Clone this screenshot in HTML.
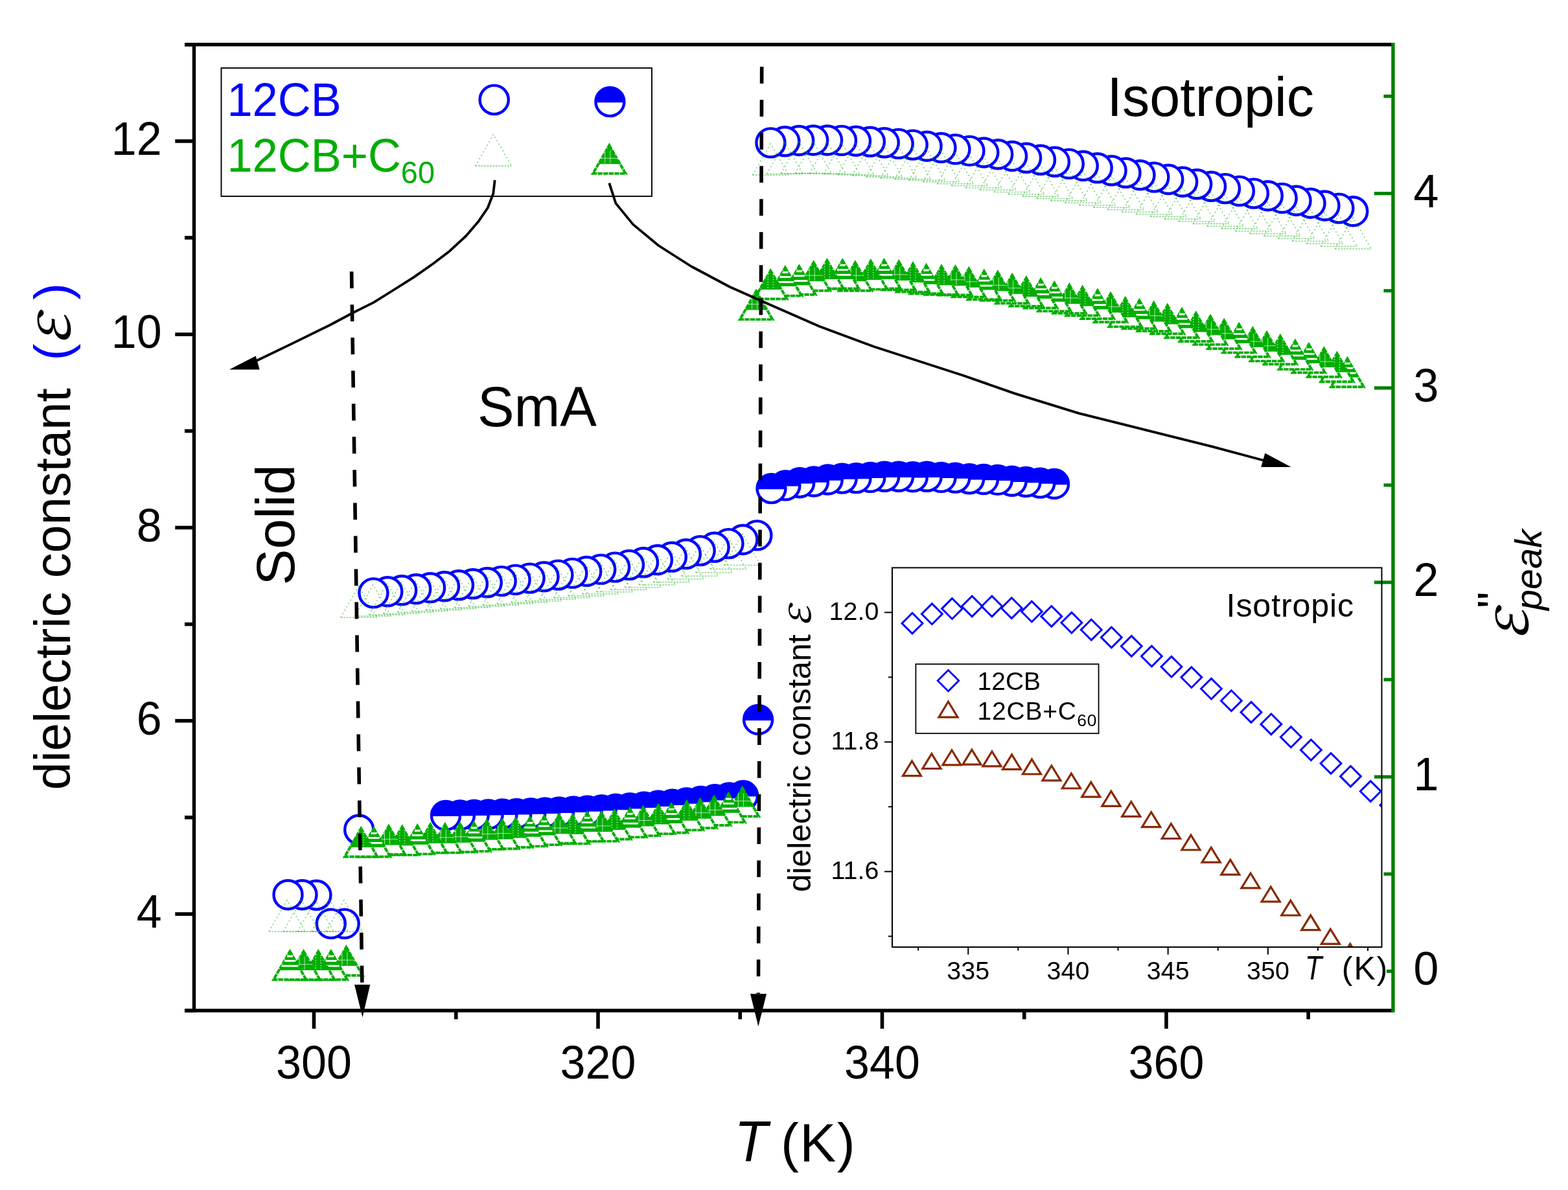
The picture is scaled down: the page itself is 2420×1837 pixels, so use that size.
<!DOCTYPE html>
<html><head><meta charset="utf-8"><title>dielectric constant</title><style>html,body{margin:0;padding:0;background:#fff;overflow:hidden}svg{display:block}</style></head><body>
<svg width="2420" height="1837" viewBox="0 0 2420 1837">
<rect width="2420" height="1837" fill="#fff"/>
<g id="seriesA">
<circle cx="2088.3" cy="326.2" r="22" fill="#fff" stroke="#0000ff" stroke-width="4.4"/>
<circle cx="2066.4" cy="321.6" r="22" fill="#fff" stroke="#0000ff" stroke-width="4.4"/>
<circle cx="2044.5" cy="317.5" r="22" fill="#fff" stroke="#0000ff" stroke-width="4.4"/>
<circle cx="2022.6" cy="313.7" r="22" fill="#fff" stroke="#0000ff" stroke-width="4.4"/>
<circle cx="2000.6" cy="309.7" r="22" fill="#fff" stroke="#0000ff" stroke-width="4.4"/>
<circle cx="1978.7" cy="305.9" r="22" fill="#fff" stroke="#0000ff" stroke-width="4.4"/>
<circle cx="1956.8" cy="302.2" r="22" fill="#fff" stroke="#0000ff" stroke-width="4.4"/>
<circle cx="1934.9" cy="298.6" r="22" fill="#fff" stroke="#0000ff" stroke-width="4.4"/>
<circle cx="1912.9" cy="294.9" r="22" fill="#fff" stroke="#0000ff" stroke-width="4.4"/>
<circle cx="1891" cy="291.1" r="22" fill="#fff" stroke="#0000ff" stroke-width="4.4"/>
<circle cx="1869.1" cy="287.8" r="22" fill="#fff" stroke="#0000ff" stroke-width="4.4"/>
<circle cx="1847.2" cy="284.3" r="22" fill="#fff" stroke="#0000ff" stroke-width="4.4"/>
<circle cx="1825.2" cy="280.7" r="22" fill="#fff" stroke="#0000ff" stroke-width="4.4"/>
<circle cx="1803.3" cy="277" r="22" fill="#fff" stroke="#0000ff" stroke-width="4.4"/>
<circle cx="1781.4" cy="273.6" r="22" fill="#fff" stroke="#0000ff" stroke-width="4.4"/>
<circle cx="1759.5" cy="270.2" r="22" fill="#fff" stroke="#0000ff" stroke-width="4.4"/>
<circle cx="1737.5" cy="266.8" r="22" fill="#fff" stroke="#0000ff" stroke-width="4.4"/>
<circle cx="1715.6" cy="263.3" r="22" fill="#fff" stroke="#0000ff" stroke-width="4.4"/>
<circle cx="1693.7" cy="259.3" r="22" fill="#fff" stroke="#0000ff" stroke-width="4.4"/>
<circle cx="1671.8" cy="256" r="22" fill="#fff" stroke="#0000ff" stroke-width="4.4"/>
<circle cx="1649.8" cy="252.9" r="22" fill="#fff" stroke="#0000ff" stroke-width="4.4"/>
<circle cx="1627.9" cy="249.8" r="22" fill="#fff" stroke="#0000ff" stroke-width="4.4"/>
<circle cx="1606" cy="246.8" r="22" fill="#fff" stroke="#0000ff" stroke-width="4.4"/>
<circle cx="1584.1" cy="243.8" r="22" fill="#fff" stroke="#0000ff" stroke-width="4.4"/>
<circle cx="1562.1" cy="241" r="22" fill="#fff" stroke="#0000ff" stroke-width="4.4"/>
<circle cx="1540.2" cy="238.2" r="22" fill="#fff" stroke="#0000ff" stroke-width="4.4"/>
<circle cx="1518.3" cy="235.5" r="22" fill="#fff" stroke="#0000ff" stroke-width="4.4"/>
<circle cx="1496.4" cy="232.9" r="22" fill="#fff" stroke="#0000ff" stroke-width="4.4"/>
<circle cx="1474.4" cy="230.4" r="22" fill="#fff" stroke="#0000ff" stroke-width="4.4"/>
<circle cx="1452.5" cy="228" r="22" fill="#fff" stroke="#0000ff" stroke-width="4.4"/>
<circle cx="1430.6" cy="225.7" r="22" fill="#fff" stroke="#0000ff" stroke-width="4.4"/>
<circle cx="1408.7" cy="223.6" r="22" fill="#fff" stroke="#0000ff" stroke-width="4.4"/>
<circle cx="1386.7" cy="221.9" r="22" fill="#fff" stroke="#0000ff" stroke-width="4.4"/>
<circle cx="1364.8" cy="220.3" r="22" fill="#fff" stroke="#0000ff" stroke-width="4.4"/>
<circle cx="1342.9" cy="218.8" r="22" fill="#fff" stroke="#0000ff" stroke-width="4.4"/>
<circle cx="1321" cy="217.7" r="22" fill="#fff" stroke="#0000ff" stroke-width="4.4"/>
<circle cx="1299" cy="216.9" r="22" fill="#fff" stroke="#0000ff" stroke-width="4.4"/>
<circle cx="1277.1" cy="216.5" r="22" fill="#fff" stroke="#0000ff" stroke-width="4.4"/>
<circle cx="1255.2" cy="216.5" r="22" fill="#fff" stroke="#0000ff" stroke-width="4.4"/>
<circle cx="1233.2" cy="217" r="22" fill="#fff" stroke="#0000ff" stroke-width="4.4"/>
<circle cx="1211.3" cy="218.3" r="22" fill="#fff" stroke="#0000ff" stroke-width="4.4"/>
<circle cx="1189.4" cy="220.4" r="22" fill="#fff" stroke="#0000ff" stroke-width="4.4"/>
<circle cx="1168.4" cy="826.4" r="22" fill="#fff" stroke="#0000ff" stroke-width="4.4"/>
<circle cx="1146.5" cy="833" r="22" fill="#fff" stroke="#0000ff" stroke-width="4.4"/>
<circle cx="1124.5" cy="839.1" r="22" fill="#fff" stroke="#0000ff" stroke-width="4.4"/>
<circle cx="1102.6" cy="844.8" r="22" fill="#fff" stroke="#0000ff" stroke-width="4.4"/>
<circle cx="1080.7" cy="850.1" r="22" fill="#fff" stroke="#0000ff" stroke-width="4.4"/>
<circle cx="1058.8" cy="855.2" r="22" fill="#fff" stroke="#0000ff" stroke-width="4.4"/>
<circle cx="1036.8" cy="859.8" r="22" fill="#fff" stroke="#0000ff" stroke-width="4.4"/>
<circle cx="1014.9" cy="864.2" r="22" fill="#fff" stroke="#0000ff" stroke-width="4.4"/>
<circle cx="993" cy="868.3" r="22" fill="#fff" stroke="#0000ff" stroke-width="4.4"/>
<circle cx="971" cy="872.1" r="22" fill="#fff" stroke="#0000ff" stroke-width="4.4"/>
<circle cx="949.1" cy="875.6" r="22" fill="#fff" stroke="#0000ff" stroke-width="4.4"/>
<circle cx="927.2" cy="878.9" r="22" fill="#fff" stroke="#0000ff" stroke-width="4.4"/>
<circle cx="905.3" cy="882" r="22" fill="#fff" stroke="#0000ff" stroke-width="4.4"/>
<circle cx="883.3" cy="884.9" r="22" fill="#fff" stroke="#0000ff" stroke-width="4.4"/>
<circle cx="861.4" cy="887.6" r="22" fill="#fff" stroke="#0000ff" stroke-width="4.4"/>
<circle cx="839.5" cy="890.2" r="22" fill="#fff" stroke="#0000ff" stroke-width="4.4"/>
<circle cx="817.6" cy="892.6" r="22" fill="#fff" stroke="#0000ff" stroke-width="4.4"/>
<circle cx="795.6" cy="894.9" r="22" fill="#fff" stroke="#0000ff" stroke-width="4.4"/>
<circle cx="773.7" cy="897.1" r="22" fill="#fff" stroke="#0000ff" stroke-width="4.4"/>
<circle cx="751.8" cy="899.2" r="22" fill="#fff" stroke="#0000ff" stroke-width="4.4"/>
<circle cx="729.9" cy="901.3" r="22" fill="#fff" stroke="#0000ff" stroke-width="4.4"/>
<circle cx="708" cy="903.3" r="22" fill="#fff" stroke="#0000ff" stroke-width="4.4"/>
<circle cx="686" cy="905.2" r="22" fill="#fff" stroke="#0000ff" stroke-width="4.4"/>
<circle cx="664.1" cy="907.2" r="22" fill="#fff" stroke="#0000ff" stroke-width="4.4"/>
<circle cx="642.2" cy="909.2" r="22" fill="#fff" stroke="#0000ff" stroke-width="4.4"/>
<circle cx="620.2" cy="911.2" r="22" fill="#fff" stroke="#0000ff" stroke-width="4.4"/>
<circle cx="598.3" cy="913.2" r="22" fill="#fff" stroke="#0000ff" stroke-width="4.4"/>
<circle cx="576.4" cy="915.4" r="22" fill="#fff" stroke="#0000ff" stroke-width="4.4"/>
<circle cx="554.2" cy="1280.8" r="22" fill="#fff" stroke="#0000ff" stroke-width="4.4"/>
<circle cx="531.7" cy="1425.9" r="22" fill="#fff" stroke="#0000ff" stroke-width="4.4"/>
<circle cx="510.8" cy="1425.9" r="22" fill="#fff" stroke="#0000ff" stroke-width="4.4"/>
<circle cx="488.4" cy="1381.8" r="22" fill="#fff" stroke="#0000ff" stroke-width="4.4"/>
<circle cx="466.5" cy="1381.2" r="22" fill="#fff" stroke="#0000ff" stroke-width="4.4"/>
<circle cx="444.5" cy="1381.2" r="22" fill="#fff" stroke="#0000ff" stroke-width="4.4"/>
</g>
<g id="seriesB">
<path d="M2060.3 384.2L2088.3 335.8L2116.3 384.2" fill="none" stroke="#33b833" stroke-width="1.8" stroke-dasharray="2 4" opacity="0.6"/>
<line x1="2060.3" y1="384.2" x2="2116.3" y2="384.2" stroke="#33b833" stroke-width="1.6" stroke-dasharray="3 1.5" opacity="0.55"/>
<path d="M2038.4 380.2L2066.4 331.8L2094.4 380.2" fill="none" stroke="#33b833" stroke-width="1.8" stroke-dasharray="2 4" opacity="0.6"/>
<line x1="2038.4" y1="380.2" x2="2094.4" y2="380.2" stroke="#33b833" stroke-width="1.6" stroke-dasharray="3 1.5" opacity="0.55"/>
<path d="M2016.5 376.2L2044.5 327.8L2072.5 376.2" fill="none" stroke="#33b833" stroke-width="1.8" stroke-dasharray="2 4" opacity="0.6"/>
<line x1="2016.5" y1="376.2" x2="2072.5" y2="376.2" stroke="#33b833" stroke-width="1.6" stroke-dasharray="3 1.5" opacity="0.55"/>
<path d="M1994.5 372.2L2022.5 323.8L2050.5 372.2" fill="none" stroke="#33b833" stroke-width="1.8" stroke-dasharray="2 4" opacity="0.6"/>
<line x1="1994.5" y1="372.2" x2="2050.5" y2="372.2" stroke="#33b833" stroke-width="1.6" stroke-dasharray="3 1.5" opacity="0.55"/>
<path d="M1972.6 368.3L2000.6 319.9L2028.6 368.3" fill="none" stroke="#33b833" stroke-width="1.8" stroke-dasharray="2 4" opacity="0.6"/>
<line x1="1972.6" y1="368.3" x2="2028.6" y2="368.3" stroke="#33b833" stroke-width="1.6" stroke-dasharray="3 1.5" opacity="0.55"/>
<path d="M1950.7 364.4L1978.7 316L2006.7 364.4" fill="none" stroke="#33b833" stroke-width="1.8" stroke-dasharray="2 4" opacity="0.6"/>
<line x1="1950.7" y1="364.4" x2="2006.7" y2="364.4" stroke="#33b833" stroke-width="1.6" stroke-dasharray="3 1.5" opacity="0.55"/>
<path d="M1928.8 360.6L1956.8 312.2L1984.8 360.6" fill="none" stroke="#33b833" stroke-width="1.8" stroke-dasharray="2 4" opacity="0.6"/>
<line x1="1928.8" y1="360.6" x2="1984.8" y2="360.6" stroke="#33b833" stroke-width="1.6" stroke-dasharray="3 1.5" opacity="0.55"/>
<path d="M1906.8 356.7L1934.8 308.3L1962.8 356.7" fill="none" stroke="#33b833" stroke-width="1.8" stroke-dasharray="2 4" opacity="0.6"/>
<line x1="1906.8" y1="356.7" x2="1962.8" y2="356.7" stroke="#33b833" stroke-width="1.6" stroke-dasharray="3 1.5" opacity="0.55"/>
<path d="M1884.9 352.9L1912.9 304.5L1940.9 352.9" fill="none" stroke="#33b833" stroke-width="1.8" stroke-dasharray="2 4" opacity="0.6"/>
<line x1="1884.9" y1="352.9" x2="1940.9" y2="352.9" stroke="#33b833" stroke-width="1.6" stroke-dasharray="3 1.5" opacity="0.55"/>
<path d="M1863 349.2L1891 300.8L1919 349.2" fill="none" stroke="#33b833" stroke-width="1.8" stroke-dasharray="2 4" opacity="0.6"/>
<line x1="1863" y1="349.2" x2="1919" y2="349.2" stroke="#33b833" stroke-width="1.6" stroke-dasharray="3 1.5" opacity="0.55"/>
<path d="M1841.1 345.4L1869.1 297L1897.1 345.4" fill="none" stroke="#33b833" stroke-width="1.8" stroke-dasharray="2 4" opacity="0.6"/>
<line x1="1841.1" y1="345.4" x2="1897.1" y2="345.4" stroke="#33b833" stroke-width="1.6" stroke-dasharray="3 1.5" opacity="0.55"/>
<path d="M1819.1 341.7L1847.1 293.3L1875.1 341.7" fill="none" stroke="#33b833" stroke-width="1.8" stroke-dasharray="2 4" opacity="0.6"/>
<line x1="1819.1" y1="341.7" x2="1875.1" y2="341.7" stroke="#33b833" stroke-width="1.6" stroke-dasharray="3 1.5" opacity="0.55"/>
<path d="M1797.2 338.1L1825.2 289.7L1853.2 338.1" fill="none" stroke="#33b833" stroke-width="1.8" stroke-dasharray="2 4" opacity="0.6"/>
<line x1="1797.2" y1="338.1" x2="1853.2" y2="338.1" stroke="#33b833" stroke-width="1.6" stroke-dasharray="3 1.5" opacity="0.55"/>
<path d="M1775.3 334.4L1803.3 286L1831.3 334.4" fill="none" stroke="#33b833" stroke-width="1.8" stroke-dasharray="2 4" opacity="0.6"/>
<line x1="1775.3" y1="334.4" x2="1831.3" y2="334.4" stroke="#33b833" stroke-width="1.6" stroke-dasharray="3 1.5" opacity="0.55"/>
<path d="M1753.4 330.8L1781.4 282.4L1809.4 330.8" fill="none" stroke="#33b833" stroke-width="1.8" stroke-dasharray="2 4" opacity="0.6"/>
<line x1="1753.4" y1="330.8" x2="1809.4" y2="330.8" stroke="#33b833" stroke-width="1.6" stroke-dasharray="3 1.5" opacity="0.55"/>
<path d="M1731.4 327.3L1759.4 278.9L1787.4 327.3" fill="none" stroke="#33b833" stroke-width="1.8" stroke-dasharray="2 4" opacity="0.6"/>
<line x1="1731.4" y1="327.3" x2="1787.4" y2="327.3" stroke="#33b833" stroke-width="1.6" stroke-dasharray="3 1.5" opacity="0.55"/>
<path d="M1709.5 323.7L1737.5 275.3L1765.5 323.7" fill="none" stroke="#33b833" stroke-width="1.8" stroke-dasharray="2 4" opacity="0.6"/>
<line x1="1709.5" y1="323.7" x2="1765.5" y2="323.7" stroke="#33b833" stroke-width="1.6" stroke-dasharray="3 1.5" opacity="0.55"/>
<path d="M1687.6 320.2L1715.6 271.8L1743.6 320.2" fill="none" stroke="#33b833" stroke-width="1.8" stroke-dasharray="2 4" opacity="0.6"/>
<line x1="1687.6" y1="320.2" x2="1743.6" y2="320.2" stroke="#33b833" stroke-width="1.6" stroke-dasharray="3 1.5" opacity="0.55"/>
<path d="M1665.7 316.7L1693.7 268.3L1721.7 316.7" fill="none" stroke="#33b833" stroke-width="1.8" stroke-dasharray="2 4" opacity="0.6"/>
<line x1="1665.7" y1="316.7" x2="1721.7" y2="316.7" stroke="#33b833" stroke-width="1.6" stroke-dasharray="3 1.5" opacity="0.55"/>
<path d="M1643.7 313.3L1671.7 264.9L1699.7 313.3" fill="none" stroke="#33b833" stroke-width="1.8" stroke-dasharray="2 4" opacity="0.6"/>
<line x1="1643.7" y1="313.3" x2="1699.7" y2="313.3" stroke="#33b833" stroke-width="1.6" stroke-dasharray="3 1.5" opacity="0.55"/>
<path d="M1621.8 309.9L1649.8 261.5L1677.8 309.9" fill="none" stroke="#33b833" stroke-width="1.8" stroke-dasharray="2 4" opacity="0.6"/>
<line x1="1621.8" y1="309.9" x2="1677.8" y2="309.9" stroke="#33b833" stroke-width="1.6" stroke-dasharray="3 1.5" opacity="0.55"/>
<path d="M1599.9 306.5L1627.9 258.1L1655.9 306.5" fill="none" stroke="#33b833" stroke-width="1.8" stroke-dasharray="2 4" opacity="0.6"/>
<line x1="1599.9" y1="306.5" x2="1655.9" y2="306.5" stroke="#33b833" stroke-width="1.6" stroke-dasharray="3 1.5" opacity="0.55"/>
<path d="M1578 303.1L1606 254.7L1634 303.1" fill="none" stroke="#33b833" stroke-width="1.8" stroke-dasharray="2 4" opacity="0.6"/>
<line x1="1578" y1="303.1" x2="1634" y2="303.1" stroke="#33b833" stroke-width="1.6" stroke-dasharray="3 1.5" opacity="0.55"/>
<path d="M1556 299.8L1584 251.4L1612 299.8" fill="none" stroke="#33b833" stroke-width="1.8" stroke-dasharray="2 4" opacity="0.6"/>
<line x1="1556" y1="299.8" x2="1612" y2="299.8" stroke="#33b833" stroke-width="1.6" stroke-dasharray="3 1.5" opacity="0.55"/>
<path d="M1534.1 296.5L1562.1 248.1L1590.1 296.5" fill="none" stroke="#33b833" stroke-width="1.8" stroke-dasharray="2 4" opacity="0.6"/>
<line x1="1534.1" y1="296.5" x2="1590.1" y2="296.5" stroke="#33b833" stroke-width="1.6" stroke-dasharray="3 1.5" opacity="0.55"/>
<path d="M1512.2 293.2L1540.2 244.8L1568.2 293.2" fill="none" stroke="#33b833" stroke-width="1.8" stroke-dasharray="2 4" opacity="0.6"/>
<line x1="1512.2" y1="293.2" x2="1568.2" y2="293.2" stroke="#33b833" stroke-width="1.6" stroke-dasharray="3 1.5" opacity="0.55"/>
<path d="M1490.3 290L1518.3 241.6L1546.3 290" fill="none" stroke="#33b833" stroke-width="1.8" stroke-dasharray="2 4" opacity="0.6"/>
<line x1="1490.3" y1="290" x2="1546.3" y2="290" stroke="#33b833" stroke-width="1.6" stroke-dasharray="3 1.5" opacity="0.55"/>
<path d="M1468.3 286.8L1496.3 238.4L1524.3 286.8" fill="none" stroke="#33b833" stroke-width="1.8" stroke-dasharray="2 4" opacity="0.6"/>
<line x1="1468.3" y1="286.8" x2="1524.3" y2="286.8" stroke="#33b833" stroke-width="1.6" stroke-dasharray="3 1.5" opacity="0.55"/>
<path d="M1446.4 283.7L1474.4 235.3L1502.4 283.7" fill="none" stroke="#33b833" stroke-width="1.8" stroke-dasharray="2 4" opacity="0.6"/>
<line x1="1446.4" y1="283.7" x2="1502.4" y2="283.7" stroke="#33b833" stroke-width="1.6" stroke-dasharray="3 1.5" opacity="0.55"/>
<path d="M1424.5 280.7L1452.5 232.3L1480.5 280.7" fill="none" stroke="#33b833" stroke-width="1.8" stroke-dasharray="2 4" opacity="0.6"/>
<line x1="1424.5" y1="280.7" x2="1480.5" y2="280.7" stroke="#33b833" stroke-width="1.6" stroke-dasharray="3 1.5" opacity="0.55"/>
<path d="M1402.6 278.5L1430.6 230.1L1458.6 278.5" fill="none" stroke="#33b833" stroke-width="1.8" stroke-dasharray="2 4" opacity="0.6"/>
<line x1="1402.6" y1="278.5" x2="1458.6" y2="278.5" stroke="#33b833" stroke-width="1.6" stroke-dasharray="3 1.5" opacity="0.55"/>
<path d="M1380.6 276.7L1408.6 228.3L1436.6 276.7" fill="none" stroke="#33b833" stroke-width="1.8" stroke-dasharray="2 4" opacity="0.6"/>
<line x1="1380.6" y1="276.7" x2="1436.6" y2="276.7" stroke="#33b833" stroke-width="1.6" stroke-dasharray="3 1.5" opacity="0.55"/>
<path d="M1358.7 275L1386.7 226.6L1414.7 275" fill="none" stroke="#33b833" stroke-width="1.8" stroke-dasharray="2 4" opacity="0.6"/>
<line x1="1358.7" y1="275" x2="1414.7" y2="275" stroke="#33b833" stroke-width="1.6" stroke-dasharray="3 1.5" opacity="0.55"/>
<path d="M1336.8 273.1L1364.8 224.7L1392.8 273.1" fill="none" stroke="#33b833" stroke-width="1.8" stroke-dasharray="2 4" opacity="0.6"/>
<line x1="1336.8" y1="273.1" x2="1392.8" y2="273.1" stroke="#33b833" stroke-width="1.6" stroke-dasharray="3 1.5" opacity="0.55"/>
<path d="M1314.9 271.2L1342.9 222.8L1370.9 271.2" fill="none" stroke="#33b833" stroke-width="1.8" stroke-dasharray="2 4" opacity="0.6"/>
<line x1="1314.9" y1="271.2" x2="1370.9" y2="271.2" stroke="#33b833" stroke-width="1.6" stroke-dasharray="3 1.5" opacity="0.55"/>
<path d="M1292.9 269.8L1320.9 221.4L1348.9 269.8" fill="none" stroke="#33b833" stroke-width="1.8" stroke-dasharray="2 4" opacity="0.6"/>
<line x1="1292.9" y1="269.8" x2="1348.9" y2="269.8" stroke="#33b833" stroke-width="1.6" stroke-dasharray="3 1.5" opacity="0.55"/>
<path d="M1271 268.7L1299 220.3L1327 268.7" fill="none" stroke="#33b833" stroke-width="1.8" stroke-dasharray="2 4" opacity="0.6"/>
<line x1="1271" y1="268.7" x2="1327" y2="268.7" stroke="#33b833" stroke-width="1.6" stroke-dasharray="3 1.5" opacity="0.55"/>
<path d="M1249.1 268L1277.1 219.6L1305.1 268" fill="none" stroke="#33b833" stroke-width="1.8" stroke-dasharray="2 4" opacity="0.6"/>
<line x1="1249.1" y1="268" x2="1305.1" y2="268" stroke="#33b833" stroke-width="1.6" stroke-dasharray="3 1.5" opacity="0.55"/>
<path d="M1227.2 267.6L1255.2 219.2L1283.2 267.6" fill="none" stroke="#33b833" stroke-width="1.8" stroke-dasharray="2 4" opacity="0.6"/>
<line x1="1227.2" y1="267.6" x2="1283.2" y2="267.6" stroke="#33b833" stroke-width="1.6" stroke-dasharray="3 1.5" opacity="0.55"/>
<path d="M1205.2 267.7L1233.2 219.3L1261.2 267.7" fill="none" stroke="#33b833" stroke-width="1.8" stroke-dasharray="2 4" opacity="0.6"/>
<line x1="1205.2" y1="267.7" x2="1261.2" y2="267.7" stroke="#33b833" stroke-width="1.6" stroke-dasharray="3 1.5" opacity="0.55"/>
<path d="M1183.3 268.5L1211.3 220.1L1239.3 268.5" fill="none" stroke="#33b833" stroke-width="1.8" stroke-dasharray="2 4" opacity="0.6"/>
<line x1="1183.3" y1="268.5" x2="1239.3" y2="268.5" stroke="#33b833" stroke-width="1.6" stroke-dasharray="3 1.5" opacity="0.55"/>
<path d="M1161.4 270.3L1189.4 221.9L1217.4 270.3" fill="none" stroke="#33b833" stroke-width="1.8" stroke-dasharray="2 4" opacity="0.6"/>
<line x1="1161.4" y1="270.3" x2="1217.4" y2="270.3" stroke="#33b833" stroke-width="1.6" stroke-dasharray="3 1.5" opacity="0.55"/>
<path d="M1117.8 872.5L1145.8 824.1L1173.8 872.5" fill="none" stroke="#33b833" stroke-width="1.8" stroke-dasharray="2 4" opacity="0.6"/>
<line x1="1117.8" y1="872.5" x2="1173.8" y2="872.5" stroke="#33b833" stroke-width="1.6" stroke-dasharray="3 1.5" opacity="0.55"/>
<path d="M1095.8 878.4L1123.8 830L1151.8 878.4" fill="none" stroke="#33b833" stroke-width="1.8" stroke-dasharray="2 4" opacity="0.6"/>
<line x1="1095.8" y1="878.4" x2="1151.8" y2="878.4" stroke="#33b833" stroke-width="1.6" stroke-dasharray="3 1.5" opacity="0.55"/>
<path d="M1073.9 884L1101.9 835.6L1129.9 884" fill="none" stroke="#33b833" stroke-width="1.8" stroke-dasharray="2 4" opacity="0.6"/>
<line x1="1073.9" y1="884" x2="1129.9" y2="884" stroke="#33b833" stroke-width="1.6" stroke-dasharray="3 1.5" opacity="0.55"/>
<path d="M1052 889.2L1080 840.8L1108 889.2" fill="none" stroke="#33b833" stroke-width="1.8" stroke-dasharray="2 4" opacity="0.6"/>
<line x1="1052" y1="889.2" x2="1108" y2="889.2" stroke="#33b833" stroke-width="1.6" stroke-dasharray="3 1.5" opacity="0.55"/>
<path d="M1030.1 894L1058.1 845.6L1086.1 894" fill="none" stroke="#33b833" stroke-width="1.8" stroke-dasharray="2 4" opacity="0.6"/>
<line x1="1030.1" y1="894" x2="1086.1" y2="894" stroke="#33b833" stroke-width="1.6" stroke-dasharray="3 1.5" opacity="0.55"/>
<path d="M1008.2 898.6L1036.2 850.2L1064.2 898.6" fill="none" stroke="#33b833" stroke-width="1.8" stroke-dasharray="2 4" opacity="0.6"/>
<line x1="1008.2" y1="898.6" x2="1064.2" y2="898.6" stroke="#33b833" stroke-width="1.6" stroke-dasharray="3 1.5" opacity="0.55"/>
<path d="M986.2 902.8L1014.2 854.4L1042.2 902.8" fill="none" stroke="#33b833" stroke-width="1.8" stroke-dasharray="2 4" opacity="0.6"/>
<line x1="986.2" y1="902.8" x2="1042.2" y2="902.8" stroke="#33b833" stroke-width="1.6" stroke-dasharray="3 1.5" opacity="0.55"/>
<path d="M964.3 906.7L992.3 858.3L1020.3 906.7" fill="none" stroke="#33b833" stroke-width="1.8" stroke-dasharray="2 4" opacity="0.6"/>
<line x1="964.3" y1="906.7" x2="1020.3" y2="906.7" stroke="#33b833" stroke-width="1.6" stroke-dasharray="3 1.5" opacity="0.55"/>
<path d="M942.4 910.4L970.4 862L998.4 910.4" fill="none" stroke="#33b833" stroke-width="1.8" stroke-dasharray="2 4" opacity="0.6"/>
<line x1="942.4" y1="910.4" x2="998.4" y2="910.4" stroke="#33b833" stroke-width="1.6" stroke-dasharray="3 1.5" opacity="0.55"/>
<path d="M920.5 913.8L948.5 865.4L976.5 913.8" fill="none" stroke="#33b833" stroke-width="1.8" stroke-dasharray="2 4" opacity="0.6"/>
<line x1="920.5" y1="913.8" x2="976.5" y2="913.8" stroke="#33b833" stroke-width="1.6" stroke-dasharray="3 1.5" opacity="0.55"/>
<path d="M898.5 916.9L926.5 868.5L954.5 916.9" fill="none" stroke="#33b833" stroke-width="1.8" stroke-dasharray="2 4" opacity="0.6"/>
<line x1="898.5" y1="916.9" x2="954.5" y2="916.9" stroke="#33b833" stroke-width="1.6" stroke-dasharray="3 1.5" opacity="0.55"/>
<path d="M876.6 919.9L904.6 871.5L932.6 919.9" fill="none" stroke="#33b833" stroke-width="1.8" stroke-dasharray="2 4" opacity="0.6"/>
<line x1="876.6" y1="919.9" x2="932.6" y2="919.9" stroke="#33b833" stroke-width="1.6" stroke-dasharray="3 1.5" opacity="0.55"/>
<path d="M854.7 922.6L882.7 874.2L910.7 922.6" fill="none" stroke="#33b833" stroke-width="1.8" stroke-dasharray="2 4" opacity="0.6"/>
<line x1="854.7" y1="922.6" x2="910.7" y2="922.6" stroke="#33b833" stroke-width="1.6" stroke-dasharray="3 1.5" opacity="0.55"/>
<path d="M832.8 925.2L860.8 876.8L888.8 925.2" fill="none" stroke="#33b833" stroke-width="1.8" stroke-dasharray="2 4" opacity="0.6"/>
<line x1="832.8" y1="925.2" x2="888.8" y2="925.2" stroke="#33b833" stroke-width="1.6" stroke-dasharray="3 1.5" opacity="0.55"/>
<path d="M810.8 927.6L838.8 879.2L866.8 927.6" fill="none" stroke="#33b833" stroke-width="1.8" stroke-dasharray="2 4" opacity="0.6"/>
<line x1="810.8" y1="927.6" x2="866.8" y2="927.6" stroke="#33b833" stroke-width="1.6" stroke-dasharray="3 1.5" opacity="0.55"/>
<path d="M788.9 929.9L816.9 881.5L844.9 929.9" fill="none" stroke="#33b833" stroke-width="1.8" stroke-dasharray="2 4" opacity="0.6"/>
<line x1="788.9" y1="929.9" x2="844.9" y2="929.9" stroke="#33b833" stroke-width="1.6" stroke-dasharray="3 1.5" opacity="0.55"/>
<path d="M767 932L795 883.6L823 932" fill="none" stroke="#33b833" stroke-width="1.8" stroke-dasharray="2 4" opacity="0.6"/>
<line x1="767" y1="932" x2="823" y2="932" stroke="#33b833" stroke-width="1.6" stroke-dasharray="3 1.5" opacity="0.55"/>
<path d="M745 934.1L773 885.7L801 934.1" fill="none" stroke="#33b833" stroke-width="1.8" stroke-dasharray="2 4" opacity="0.6"/>
<line x1="745" y1="934.1" x2="801" y2="934.1" stroke="#33b833" stroke-width="1.6" stroke-dasharray="3 1.5" opacity="0.55"/>
<path d="M723.1 936L751.1 887.6L779.1 936" fill="none" stroke="#33b833" stroke-width="1.8" stroke-dasharray="2 4" opacity="0.6"/>
<line x1="723.1" y1="936" x2="779.1" y2="936" stroke="#33b833" stroke-width="1.6" stroke-dasharray="3 1.5" opacity="0.55"/>
<path d="M701.2 937.9L729.2 889.5L757.2 937.9" fill="none" stroke="#33b833" stroke-width="1.8" stroke-dasharray="2 4" opacity="0.6"/>
<line x1="701.2" y1="937.9" x2="757.2" y2="937.9" stroke="#33b833" stroke-width="1.6" stroke-dasharray="3 1.5" opacity="0.55"/>
<path d="M679.3 939.8L707.3 891.4L735.3 939.8" fill="none" stroke="#33b833" stroke-width="1.8" stroke-dasharray="2 4" opacity="0.6"/>
<line x1="679.3" y1="939.8" x2="735.3" y2="939.8" stroke="#33b833" stroke-width="1.6" stroke-dasharray="3 1.5" opacity="0.55"/>
<path d="M657.3 941.6L685.3 893.2L713.3 941.6" fill="none" stroke="#33b833" stroke-width="1.8" stroke-dasharray="2 4" opacity="0.6"/>
<line x1="657.3" y1="941.6" x2="713.3" y2="941.6" stroke="#33b833" stroke-width="1.6" stroke-dasharray="3 1.5" opacity="0.55"/>
<path d="M635.4 943.5L663.4 895.1L691.4 943.5" fill="none" stroke="#33b833" stroke-width="1.8" stroke-dasharray="2 4" opacity="0.6"/>
<line x1="635.4" y1="943.5" x2="691.4" y2="943.5" stroke="#33b833" stroke-width="1.6" stroke-dasharray="3 1.5" opacity="0.55"/>
<path d="M613.5 945.3L641.5 896.9L669.5 945.3" fill="none" stroke="#33b833" stroke-width="1.8" stroke-dasharray="2 4" opacity="0.6"/>
<line x1="613.5" y1="945.3" x2="669.5" y2="945.3" stroke="#33b833" stroke-width="1.6" stroke-dasharray="3 1.5" opacity="0.55"/>
<path d="M591.6 947.2L619.6 898.8L647.6 947.2" fill="none" stroke="#33b833" stroke-width="1.8" stroke-dasharray="2 4" opacity="0.6"/>
<line x1="591.6" y1="947.2" x2="647.6" y2="947.2" stroke="#33b833" stroke-width="1.6" stroke-dasharray="3 1.5" opacity="0.55"/>
<path d="M569.6 949.1L597.6 900.7L625.6 949.1" fill="none" stroke="#33b833" stroke-width="1.8" stroke-dasharray="2 4" opacity="0.6"/>
<line x1="569.6" y1="949.1" x2="625.6" y2="949.1" stroke="#33b833" stroke-width="1.6" stroke-dasharray="3 1.5" opacity="0.55"/>
<path d="M547.7 951.1L575.7 902.7L603.7 951.1" fill="none" stroke="#33b833" stroke-width="1.8" stroke-dasharray="2 4" opacity="0.6"/>
<line x1="547.7" y1="951.1" x2="603.7" y2="951.1" stroke="#33b833" stroke-width="1.6" stroke-dasharray="3 1.5" opacity="0.55"/>
<path d="M525.8 953.2L553.8 904.8L581.8 953.2" fill="none" stroke="#33b833" stroke-width="1.8" stroke-dasharray="2 4" opacity="0.6"/>
<line x1="525.8" y1="953.2" x2="581.8" y2="953.2" stroke="#33b833" stroke-width="1.6" stroke-dasharray="3 1.5" opacity="0.55"/>
<path d="M503 1438L531 1389.6L559 1438" fill="none" stroke="#33b833" stroke-width="1.8" stroke-dasharray="2 4" opacity="0.6"/>
<line x1="503" y1="1438" x2="559" y2="1438" stroke="#33b833" stroke-width="1.6" stroke-dasharray="3 1.5" opacity="0.55"/>
<path d="M481 1438L509 1389.6L537 1438" fill="none" stroke="#33b833" stroke-width="1.8" stroke-dasharray="2 4" opacity="0.6"/>
<line x1="481" y1="1438" x2="537" y2="1438" stroke="#33b833" stroke-width="1.6" stroke-dasharray="3 1.5" opacity="0.55"/>
<path d="M459 1438L487 1389.6L515 1438" fill="none" stroke="#33b833" stroke-width="1.8" stroke-dasharray="2 4" opacity="0.6"/>
<line x1="459" y1="1438" x2="515" y2="1438" stroke="#33b833" stroke-width="1.6" stroke-dasharray="3 1.5" opacity="0.55"/>
<path d="M437 1438L465 1389.6L493 1438" fill="none" stroke="#33b833" stroke-width="1.8" stroke-dasharray="2 4" opacity="0.6"/>
<line x1="437" y1="1438" x2="493" y2="1438" stroke="#33b833" stroke-width="1.6" stroke-dasharray="3 1.5" opacity="0.55"/>
<path d="M415 1438L443 1389.6L471 1438" fill="none" stroke="#33b833" stroke-width="1.8" stroke-dasharray="2 4" opacity="0.6"/>
<line x1="415" y1="1438" x2="471" y2="1438" stroke="#33b833" stroke-width="1.6" stroke-dasharray="3 1.5" opacity="0.55"/>
</g>
<g id="seriesC">
<circle cx="1627.1" cy="747" r="22" fill="#fff" stroke="#0000ff" stroke-width="4.4"/>
<path d="M1605.1 748.2A22 22 0 1 1 1649.1 748.2Z" fill="#0000ff"/>
<circle cx="1605.3" cy="745.6" r="22" fill="#fff" stroke="#0000ff" stroke-width="4.4"/>
<path d="M1583.3 746.8A22 22 0 1 1 1627.2 746.8Z" fill="#0000ff"/>
<circle cx="1583.4" cy="744" r="22" fill="#fff" stroke="#0000ff" stroke-width="4.4"/>
<path d="M1561.5 745.2A22 22 0 1 1 1605.4 745.2Z" fill="#0000ff"/>
<circle cx="1561.6" cy="742.8" r="22" fill="#fff" stroke="#0000ff" stroke-width="4.4"/>
<path d="M1539.6 744A22 22 0 1 1 1583.6 744Z" fill="#0000ff"/>
<circle cx="1539.8" cy="740.9" r="22" fill="#fff" stroke="#0000ff" stroke-width="4.4"/>
<path d="M1517.8 742.1A22 22 0 1 1 1561.7 742.1Z" fill="#0000ff"/>
<circle cx="1517.9" cy="740" r="22" fill="#fff" stroke="#0000ff" stroke-width="4.4"/>
<path d="M1496 741.2A22 22 0 1 1 1539.9 741.2Z" fill="#0000ff"/>
<circle cx="1496.1" cy="739.3" r="22" fill="#fff" stroke="#0000ff" stroke-width="4.4"/>
<path d="M1474.2 740.5A22 22 0 1 1 1518.1 740.5Z" fill="#0000ff"/>
<circle cx="1474.3" cy="737.6" r="22" fill="#fff" stroke="#0000ff" stroke-width="4.4"/>
<path d="M1452.3 738.8A22 22 0 1 1 1496.3 738.8Z" fill="#0000ff"/>
<circle cx="1452.5" cy="736.9" r="22" fill="#fff" stroke="#0000ff" stroke-width="4.4"/>
<path d="M1430.5 738.1A22 22 0 1 1 1474.4 738.1Z" fill="#0000ff"/>
<circle cx="1430.6" cy="735.8" r="22" fill="#fff" stroke="#0000ff" stroke-width="4.4"/>
<path d="M1408.7 737A22 22 0 1 1 1452.6 737Z" fill="#0000ff"/>
<circle cx="1408.8" cy="736.2" r="22" fill="#fff" stroke="#0000ff" stroke-width="4.4"/>
<path d="M1386.8 737.4A22 22 0 1 1 1430.8 737.4Z" fill="#0000ff"/>
<circle cx="1387" cy="735.8" r="22" fill="#fff" stroke="#0000ff" stroke-width="4.4"/>
<path d="M1365 737A22 22 0 1 1 1408.9 737Z" fill="#0000ff"/>
<circle cx="1365.1" cy="735.8" r="22" fill="#fff" stroke="#0000ff" stroke-width="4.4"/>
<path d="M1343.2 737A22 22 0 1 1 1387.1 737Z" fill="#0000ff"/>
<circle cx="1343.3" cy="736.9" r="22" fill="#fff" stroke="#0000ff" stroke-width="4.4"/>
<path d="M1321.3 738.1A22 22 0 1 1 1365.3 738.1Z" fill="#0000ff"/>
<circle cx="1321.5" cy="738.1" r="22" fill="#fff" stroke="#0000ff" stroke-width="4.4"/>
<path d="M1299.5 739.3A22 22 0 1 1 1343.4 739.3Z" fill="#0000ff"/>
<circle cx="1299.7" cy="738.6" r="22" fill="#fff" stroke="#0000ff" stroke-width="4.4"/>
<path d="M1277.7 739.8A22 22 0 1 1 1321.6 739.8Z" fill="#0000ff"/>
<circle cx="1277.8" cy="740.5" r="22" fill="#fff" stroke="#0000ff" stroke-width="4.4"/>
<path d="M1255.9 741.7A22 22 0 1 1 1299.8 741.7Z" fill="#0000ff"/>
<circle cx="1256" cy="743.5" r="22" fill="#fff" stroke="#0000ff" stroke-width="4.4"/>
<path d="M1234 744.7A22 22 0 1 1 1278 744.7Z" fill="#0000ff"/>
<circle cx="1234.2" cy="745.2" r="22" fill="#fff" stroke="#0000ff" stroke-width="4.4"/>
<path d="M1212.2 746.4A22 22 0 1 1 1256.1 746.4Z" fill="#0000ff"/>
<circle cx="1212.3" cy="749.4" r="22" fill="#fff" stroke="#0000ff" stroke-width="4.4"/>
<path d="M1190.4 750.6A22 22 0 1 1 1234.3 750.6Z" fill="#0000ff"/>
<circle cx="1190.5" cy="754.1" r="22" fill="#fff" stroke="#0000ff" stroke-width="4.4"/>
<path d="M1168.5 755.3A22 22 0 1 1 1212.5 755.3Z" fill="#0000ff"/>
<circle cx="1170.1" cy="1111" r="22" fill="#fff" stroke="#0000ff" stroke-width="4.4"/>
<path d="M1148.1 1112.2A22 22 0 1 1 1192.1 1112.2Z" fill="#0000ff"/>
<circle cx="1147.1" cy="1228.3" r="22" fill="#fff" stroke="#0000ff" stroke-width="4.4"/>
<path d="M1125.1 1229.5A22 22 0 1 1 1169.1 1229.5Z" fill="#0000ff"/>
<circle cx="1125.2" cy="1231.4" r="22" fill="#fff" stroke="#0000ff" stroke-width="4.4"/>
<path d="M1103.3 1232.6A22 22 0 1 1 1147.2 1232.6Z" fill="#0000ff"/>
<circle cx="1103.4" cy="1234.3" r="22" fill="#fff" stroke="#0000ff" stroke-width="4.4"/>
<path d="M1081.4 1235.5A22 22 0 1 1 1125.3 1235.5Z" fill="#0000ff"/>
<circle cx="1081.5" cy="1237" r="22" fill="#fff" stroke="#0000ff" stroke-width="4.4"/>
<path d="M1059.5 1238.2A22 22 0 1 1 1103.5 1238.2Z" fill="#0000ff"/>
<circle cx="1059.7" cy="1239.5" r="22" fill="#fff" stroke="#0000ff" stroke-width="4.4"/>
<path d="M1037.7 1240.7A22 22 0 1 1 1081.6 1240.7Z" fill="#0000ff"/>
<circle cx="1037.8" cy="1241.8" r="22" fill="#fff" stroke="#0000ff" stroke-width="4.4"/>
<path d="M1015.8 1243A22 22 0 1 1 1059.8 1243Z" fill="#0000ff"/>
<circle cx="1015.9" cy="1243.8" r="22" fill="#fff" stroke="#0000ff" stroke-width="4.4"/>
<path d="M994 1245A22 22 0 1 1 1037.9 1245Z" fill="#0000ff"/>
<circle cx="994.1" cy="1245.7" r="22" fill="#fff" stroke="#0000ff" stroke-width="4.4"/>
<path d="M972.1 1246.9A22 22 0 1 1 1016 1246.9Z" fill="#0000ff"/>
<circle cx="972.2" cy="1247.4" r="22" fill="#fff" stroke="#0000ff" stroke-width="4.4"/>
<path d="M950.2 1248.6A22 22 0 1 1 994.2 1248.6Z" fill="#0000ff"/>
<circle cx="950.3" cy="1249" r="22" fill="#fff" stroke="#0000ff" stroke-width="4.4"/>
<path d="M928.4 1250.2A22 22 0 1 1 972.3 1250.2Z" fill="#0000ff"/>
<circle cx="928.5" cy="1250.4" r="22" fill="#fff" stroke="#0000ff" stroke-width="4.4"/>
<path d="M906.5 1251.6A22 22 0 1 1 950.4 1251.6Z" fill="#0000ff"/>
<circle cx="906.6" cy="1251.6" r="22" fill="#fff" stroke="#0000ff" stroke-width="4.4"/>
<path d="M884.7 1252.8A22 22 0 1 1 928.6 1252.8Z" fill="#0000ff"/>
<circle cx="884.8" cy="1252.8" r="22" fill="#fff" stroke="#0000ff" stroke-width="4.4"/>
<path d="M862.8 1254A22 22 0 1 1 906.7 1254Z" fill="#0000ff"/>
<circle cx="862.9" cy="1253.8" r="22" fill="#fff" stroke="#0000ff" stroke-width="4.4"/>
<path d="M840.9 1255A22 22 0 1 1 884.9 1255Z" fill="#0000ff"/>
<circle cx="841" cy="1254.7" r="22" fill="#fff" stroke="#0000ff" stroke-width="4.4"/>
<path d="M819.1 1255.9A22 22 0 1 1 863 1255.9Z" fill="#0000ff"/>
<circle cx="819.2" cy="1255.5" r="22" fill="#fff" stroke="#0000ff" stroke-width="4.4"/>
<path d="M797.2 1256.7A22 22 0 1 1 841.1 1256.7Z" fill="#0000ff"/>
<circle cx="797.3" cy="1256.2" r="22" fill="#fff" stroke="#0000ff" stroke-width="4.4"/>
<path d="M775.3 1257.4A22 22 0 1 1 819.3 1257.4Z" fill="#0000ff"/>
<circle cx="775.4" cy="1256.8" r="22" fill="#fff" stroke="#0000ff" stroke-width="4.4"/>
<path d="M753.5 1258A22 22 0 1 1 797.4 1258Z" fill="#0000ff"/>
<circle cx="753.6" cy="1257.4" r="22" fill="#fff" stroke="#0000ff" stroke-width="4.4"/>
<path d="M731.6 1258.6A22 22 0 1 1 775.6 1258.6Z" fill="#0000ff"/>
<circle cx="731.7" cy="1257.9" r="22" fill="#fff" stroke="#0000ff" stroke-width="4.4"/>
<path d="M709.8 1259.1A22 22 0 1 1 753.7 1259.1Z" fill="#0000ff"/>
<circle cx="709.9" cy="1258.4" r="22" fill="#fff" stroke="#0000ff" stroke-width="4.4"/>
<path d="M687.9 1259.6A22 22 0 1 1 731.8 1259.6Z" fill="#0000ff"/>
<circle cx="688" cy="1258.9" r="22" fill="#fff" stroke="#0000ff" stroke-width="4.4"/>
<path d="M666 1260.1A22 22 0 1 1 710 1260.1Z" fill="#0000ff"/>
</g>
<g id="seriesD">
<polygon points="2079.5,553.5 2104.7,597.2 2054.3,597.2" fill="#fff" stroke="#00ad00" stroke-width="3.9" stroke-linejoin="miter" stroke-dasharray="7.5 1.1"/>
<polygon points="2079.5,553.5 2096.3,582.6 2062.7,582.6" fill="#00ad00"/>
<rect x="2075.2" y="559.6" width="8.6" height="3" fill="#fff"/>
<rect x="2071" y="566.8" width="16.9" height="2.8" fill="#fff"/>
<rect x="2066.5" y="574.6" width="25.9" height="2.8" fill="#fff"/>
<polygon points="2063.5,545.5 2088.7,589.2 2038.3,589.2" fill="#fff" stroke="#00ad00" stroke-width="3.9" stroke-linejoin="miter" stroke-dasharray="7.5 1.1"/>
<polygon points="2063.5,545.5 2080.3,574.6 2046.7,574.6" fill="#00ad00"/>
<line x1="2059.5" y1="550.6" x2="2059.5" y2="573.6" stroke="#fff" stroke-width="1.3" stroke-dasharray="1.3 2.7" opacity="0.9"/>
<line x1="2067.5" y1="550.6" x2="2067.5" y2="573.6" stroke="#fff" stroke-width="1.3" stroke-dasharray="1.3 2.7" opacity="0.9"/>
<polygon points="2043.4,538 2068.6,581.7 2018.2,581.7" fill="#fff" stroke="#00ad00" stroke-width="3.9" stroke-linejoin="miter" stroke-dasharray="7.5 1.1"/>
<polygon points="2043.4,538 2060.2,567.1 2026.6,567.1" fill="#00ad00"/>
<line x1="2036.9" y1="546.1" x2="2036.9" y2="566.1" stroke="#fff" stroke-width="0.9" opacity="0.75"/>
<line x1="2044.9" y1="546.1" x2="2044.9" y2="566.1" stroke="#fff" stroke-width="0.9" opacity="0.75"/>
<line x1="2029.4" y1="558.1" x2="2057.4" y2="558.1" stroke="#fff" stroke-width="0.9" opacity="0.75"/>
<polygon points="2020,531.6 2045.2,575.3 1994.8,575.3" fill="#fff" stroke="#00ad00" stroke-width="3.9" stroke-linejoin="miter" stroke-dasharray="7.5 1.1"/>
<polygon points="2020,531.6 2036.8,560.7 2003.2,560.7" fill="#00ad00"/>
<rect x="2015.7" y="537.7" width="8.6" height="3" fill="#fff"/>
<rect x="2011.5" y="544.9" width="16.9" height="2.8" fill="#fff"/>
<rect x="2007" y="552.7" width="25.9" height="2.8" fill="#fff"/>
<polygon points="1999,526.4 2024.2,570.1 1973.8,570.1" fill="#fff" stroke="#00ad00" stroke-width="3.9" stroke-linejoin="miter" stroke-dasharray="7.5 1.1"/>
<polygon points="1999,526.4 2015.8,555.5 1982.2,555.5" fill="#00ad00"/>
<rect x="1994.7" y="532.5" width="8.6" height="3" fill="#fff"/>
<rect x="1990.5" y="539.7" width="16.9" height="2.8" fill="#fff"/>
<rect x="1986" y="547.5" width="25.9" height="2.8" fill="#fff"/>
<polygon points="1975.9,518.6 2001.1,562.3 1950.7,562.3" fill="#fff" stroke="#00ad00" stroke-width="3.9" stroke-linejoin="miter" stroke-dasharray="7.5 1.1"/>
<polygon points="1975.9,518.6 1992.7,547.7 1959.1,547.7" fill="#00ad00"/>
<line x1="1971.9" y1="523.7" x2="1971.9" y2="546.7" stroke="#fff" stroke-width="1.3" stroke-dasharray="1.3 2.7" opacity="0.9"/>
<line x1="1979.9" y1="523.7" x2="1979.9" y2="546.7" stroke="#fff" stroke-width="1.3" stroke-dasharray="1.3 2.7" opacity="0.9"/>
<polygon points="1955.1,513.7 1980.3,557.4 1929.9,557.4" fill="#fff" stroke="#00ad00" stroke-width="3.9" stroke-linejoin="miter" stroke-dasharray="7.5 1.1"/>
<polygon points="1955.1,513.7 1971.9,542.8 1938.3,542.8" fill="#00ad00"/>
<line x1="1948.6" y1="521.8" x2="1948.6" y2="541.8" stroke="#fff" stroke-width="0.9" opacity="0.75"/>
<line x1="1956.6" y1="521.8" x2="1956.6" y2="541.8" stroke="#fff" stroke-width="0.9" opacity="0.75"/>
<line x1="1941.1" y1="533.8" x2="1969.1" y2="533.8" stroke="#fff" stroke-width="0.9" opacity="0.75"/>
<polygon points="1933.4,507 1958.6,550.7 1908.2,550.7" fill="#fff" stroke="#00ad00" stroke-width="3.9" stroke-linejoin="miter" stroke-dasharray="7.5 1.1"/>
<polygon points="1933.4,507 1950.2,536.1 1916.6,536.1" fill="#00ad00"/>
<line x1="1926.9" y1="515.1" x2="1926.9" y2="535.1" stroke="#fff" stroke-width="0.9" opacity="0.75"/>
<line x1="1934.9" y1="515.1" x2="1934.9" y2="535.1" stroke="#fff" stroke-width="0.9" opacity="0.75"/>
<line x1="1919.4" y1="527.1" x2="1947.4" y2="527.1" stroke="#fff" stroke-width="0.9" opacity="0.75"/>
<polygon points="1912.3,500.7 1937.5,544.4 1887.1,544.4" fill="#fff" stroke="#00ad00" stroke-width="3.9" stroke-linejoin="miter" stroke-dasharray="7.5 1.1"/>
<polygon points="1912.3,500.7 1929.1,529.8 1895.5,529.8" fill="#00ad00"/>
<rect x="1908" y="506.8" width="8.6" height="3" fill="#fff"/>
<rect x="1903.8" y="514" width="16.9" height="2.8" fill="#fff"/>
<rect x="1899.3" y="521.8" width="25.9" height="2.8" fill="#fff"/>
<polygon points="1889.2,494.6 1914.4,538.3 1864,538.3" fill="#fff" stroke="#00ad00" stroke-width="3.9" stroke-linejoin="miter" stroke-dasharray="7.5 1.1"/>
<polygon points="1889.2,494.6 1906,523.7 1872.4,523.7" fill="#00ad00"/>
<line x1="1882.7" y1="502.7" x2="1882.7" y2="522.7" stroke="#fff" stroke-width="0.9" opacity="0.75"/>
<line x1="1890.7" y1="502.7" x2="1890.7" y2="522.7" stroke="#fff" stroke-width="0.9" opacity="0.75"/>
<line x1="1875.2" y1="514.7" x2="1903.2" y2="514.7" stroke="#fff" stroke-width="0.9" opacity="0.75"/>
<polygon points="1868,488.2 1893.2,531.9 1842.8,531.9" fill="#fff" stroke="#00ad00" stroke-width="3.9" stroke-linejoin="miter" stroke-dasharray="7.5 1.1"/>
<polygon points="1868,488.2 1884.8,517.3 1851.2,517.3" fill="#00ad00"/>
<line x1="1861.5" y1="496.3" x2="1861.5" y2="516.3" stroke="#fff" stroke-width="0.9" opacity="0.75"/>
<line x1="1869.5" y1="496.3" x2="1869.5" y2="516.3" stroke="#fff" stroke-width="0.9" opacity="0.75"/>
<line x1="1854" y1="508.3" x2="1882" y2="508.3" stroke="#fff" stroke-width="0.9" opacity="0.75"/>
<polygon points="1845.8,483.3 1871,527 1820.6,527" fill="#fff" stroke="#00ad00" stroke-width="3.9" stroke-linejoin="miter" stroke-dasharray="7.5 1.1"/>
<polygon points="1845.8,483.3 1862.6,512.4 1829,512.4" fill="#00ad00"/>
<line x1="1841.8" y1="488.4" x2="1841.8" y2="511.4" stroke="#fff" stroke-width="1.3" stroke-dasharray="1.3 2.7" opacity="0.9"/>
<line x1="1849.8" y1="488.4" x2="1849.8" y2="511.4" stroke="#fff" stroke-width="1.3" stroke-dasharray="1.3 2.7" opacity="0.9"/>
<polygon points="1824.1,477.5 1849.3,521.2 1798.9,521.2" fill="#fff" stroke="#00ad00" stroke-width="3.9" stroke-linejoin="miter" stroke-dasharray="7.5 1.1"/>
<polygon points="1824.1,477.5 1840.9,506.6 1807.3,506.6" fill="#00ad00"/>
<rect x="1819.8" y="483.6" width="8.6" height="3" fill="#fff"/>
<rect x="1815.6" y="490.8" width="16.9" height="2.8" fill="#fff"/>
<rect x="1811.1" y="498.6" width="25.9" height="2.8" fill="#fff"/>
<polygon points="1801.8,471.4 1827,515.1 1776.6,515.1" fill="#fff" stroke="#00ad00" stroke-width="3.9" stroke-linejoin="miter" stroke-dasharray="7.5 1.1"/>
<polygon points="1801.8,471.4 1818.6,500.5 1785,500.5" fill="#00ad00"/>
<line x1="1797.8" y1="476.5" x2="1797.8" y2="499.5" stroke="#fff" stroke-width="1.3" stroke-dasharray="1.3 2.7" opacity="0.9"/>
<line x1="1805.8" y1="476.5" x2="1805.8" y2="499.5" stroke="#fff" stroke-width="1.3" stroke-dasharray="1.3 2.7" opacity="0.9"/>
<polygon points="1780.7,467.4 1805.9,511.1 1755.5,511.1" fill="#fff" stroke="#00ad00" stroke-width="3.9" stroke-linejoin="miter" stroke-dasharray="7.5 1.1"/>
<polygon points="1780.7,467.4 1797.5,496.5 1763.9,496.5" fill="#00ad00"/>
<line x1="1774.2" y1="475.5" x2="1774.2" y2="495.5" stroke="#fff" stroke-width="0.9" opacity="0.75"/>
<line x1="1782.2" y1="475.5" x2="1782.2" y2="495.5" stroke="#fff" stroke-width="0.9" opacity="0.75"/>
<line x1="1766.7" y1="487.5" x2="1794.7" y2="487.5" stroke="#fff" stroke-width="0.9" opacity="0.75"/>
<polygon points="1758.4,463.6 1783.6,507.3 1733.2,507.3" fill="#fff" stroke="#00ad00" stroke-width="3.9" stroke-linejoin="miter" stroke-dasharray="7.5 1.1"/>
<polygon points="1758.4,463.6 1775.2,492.7 1741.6,492.7" fill="#00ad00"/>
<rect x="1754.1" y="469.7" width="8.6" height="3" fill="#fff"/>
<rect x="1749.9" y="476.9" width="16.9" height="2.8" fill="#fff"/>
<rect x="1745.4" y="484.7" width="25.9" height="2.8" fill="#fff"/>
<polygon points="1736.7,460.7 1761.9,504.4 1711.5,504.4" fill="#fff" stroke="#00ad00" stroke-width="3.9" stroke-linejoin="miter" stroke-dasharray="7.5 1.1"/>
<polygon points="1736.7,460.7 1753.5,489.8 1719.9,489.8" fill="#00ad00"/>
<line x1="1732.7" y1="465.8" x2="1732.7" y2="488.8" stroke="#fff" stroke-width="1.3" stroke-dasharray="1.3 2.7" opacity="0.9"/>
<line x1="1740.7" y1="465.8" x2="1740.7" y2="488.8" stroke="#fff" stroke-width="1.3" stroke-dasharray="1.3 2.7" opacity="0.9"/>
<polygon points="1714.1,453.5 1739.3,497.2 1688.9,497.2" fill="#fff" stroke="#00ad00" stroke-width="3.9" stroke-linejoin="miter" stroke-dasharray="7.5 1.1"/>
<polygon points="1714.1,453.5 1730.9,482.6 1697.3,482.6" fill="#00ad00"/>
<line x1="1707.6" y1="461.6" x2="1707.6" y2="481.6" stroke="#fff" stroke-width="0.9" opacity="0.75"/>
<line x1="1715.6" y1="461.6" x2="1715.6" y2="481.6" stroke="#fff" stroke-width="0.9" opacity="0.75"/>
<line x1="1700.1" y1="473.6" x2="1728.1" y2="473.6" stroke="#fff" stroke-width="0.9" opacity="0.75"/>
<polygon points="1693.9,448.3 1719.1,492 1668.7,492" fill="#fff" stroke="#00ad00" stroke-width="3.9" stroke-linejoin="miter" stroke-dasharray="7.5 1.1"/>
<polygon points="1693.9,448.3 1710.7,477.4 1677.1,477.4" fill="#00ad00"/>
<rect x="1689.6" y="454.4" width="8.6" height="3" fill="#fff"/>
<rect x="1685.4" y="461.6" width="16.9" height="2.8" fill="#fff"/>
<rect x="1680.9" y="469.4" width="25.9" height="2.8" fill="#fff"/>
<polygon points="1670.7,443.4 1695.9,487.1 1645.5,487.1" fill="#fff" stroke="#00ad00" stroke-width="3.9" stroke-linejoin="miter" stroke-dasharray="7.5 1.1"/>
<polygon points="1670.7,443.4 1687.5,472.5 1653.9,472.5" fill="#00ad00"/>
<line x1="1666.7" y1="448.5" x2="1666.7" y2="471.5" stroke="#fff" stroke-width="1.3" stroke-dasharray="1.3 2.7" opacity="0.9"/>
<line x1="1674.7" y1="448.5" x2="1674.7" y2="471.5" stroke="#fff" stroke-width="1.3" stroke-dasharray="1.3 2.7" opacity="0.9"/>
<polygon points="1650.5,439.9 1675.7,483.6 1625.3,483.6" fill="#fff" stroke="#00ad00" stroke-width="3.9" stroke-linejoin="miter" stroke-dasharray="7.5 1.1"/>
<polygon points="1650.5,439.9 1667.3,469 1633.7,469" fill="#00ad00"/>
<line x1="1644" y1="448" x2="1644" y2="468" stroke="#fff" stroke-width="0.9" opacity="0.75"/>
<line x1="1652" y1="448" x2="1652" y2="468" stroke="#fff" stroke-width="0.9" opacity="0.75"/>
<line x1="1636.5" y1="460" x2="1664.5" y2="460" stroke="#fff" stroke-width="0.9" opacity="0.75"/>
<polygon points="1627.3,436.7 1652.5,480.4 1602.1,480.4" fill="#fff" stroke="#00ad00" stroke-width="3.9" stroke-linejoin="miter" stroke-dasharray="7.5 1.1"/>
<polygon points="1627.3,436.7 1644.1,465.8 1610.5,465.8" fill="#00ad00"/>
<rect x="1623" y="442.8" width="8.6" height="3" fill="#fff"/>
<rect x="1618.8" y="450" width="16.9" height="2.8" fill="#fff"/>
<rect x="1614.3" y="457.8" width="25.9" height="2.8" fill="#fff"/>
<polygon points="1606.2,431.8 1631.4,475.5 1581,475.5" fill="#fff" stroke="#00ad00" stroke-width="3.9" stroke-linejoin="miter" stroke-dasharray="7.5 1.1"/>
<polygon points="1606.2,431.8 1623,460.9 1589.4,460.9" fill="#00ad00"/>
<rect x="1601.9" y="437.9" width="8.6" height="3" fill="#fff"/>
<rect x="1597.7" y="445.1" width="16.9" height="2.8" fill="#fff"/>
<rect x="1593.2" y="452.9" width="25.9" height="2.8" fill="#fff"/>
<polygon points="1583.9,428.9 1609.1,472.6 1558.7,472.6" fill="#fff" stroke="#00ad00" stroke-width="3.9" stroke-linejoin="miter" stroke-dasharray="7.5 1.1"/>
<polygon points="1583.9,428.9 1600.7,458 1567.1,458" fill="#00ad00"/>
<line x1="1579.9" y1="434" x2="1579.9" y2="457" stroke="#fff" stroke-width="1.3" stroke-dasharray="1.3 2.7" opacity="0.9"/>
<line x1="1587.9" y1="434" x2="1587.9" y2="457" stroke="#fff" stroke-width="1.3" stroke-dasharray="1.3 2.7" opacity="0.9"/>
<polygon points="1562.2,424.6 1587.4,468.3 1537,468.3" fill="#fff" stroke="#00ad00" stroke-width="3.9" stroke-linejoin="miter" stroke-dasharray="7.5 1.1"/>
<polygon points="1562.2,424.6 1579,453.7 1545.4,453.7" fill="#00ad00"/>
<line x1="1555.7" y1="432.7" x2="1555.7" y2="452.7" stroke="#fff" stroke-width="0.9" opacity="0.75"/>
<line x1="1563.7" y1="432.7" x2="1563.7" y2="452.7" stroke="#fff" stroke-width="0.9" opacity="0.75"/>
<line x1="1548.2" y1="444.7" x2="1576.2" y2="444.7" stroke="#fff" stroke-width="0.9" opacity="0.75"/>
<polygon points="1539.9,420.2 1565.1,463.9 1514.7,463.9" fill="#fff" stroke="#00ad00" stroke-width="3.9" stroke-linejoin="miter" stroke-dasharray="7.5 1.1"/>
<polygon points="1539.9,420.2 1556.7,449.3 1523.1,449.3" fill="#00ad00"/>
<line x1="1533.4" y1="428.3" x2="1533.4" y2="448.3" stroke="#fff" stroke-width="0.9" opacity="0.75"/>
<line x1="1541.4" y1="428.3" x2="1541.4" y2="448.3" stroke="#fff" stroke-width="0.9" opacity="0.75"/>
<line x1="1525.9" y1="440.3" x2="1553.9" y2="440.3" stroke="#fff" stroke-width="0.9" opacity="0.75"/>
<polygon points="1518.8,418.5 1544,462.2 1493.6,462.2" fill="#fff" stroke="#00ad00" stroke-width="3.9" stroke-linejoin="miter" stroke-dasharray="7.5 1.1"/>
<polygon points="1518.8,418.5 1535.6,447.6 1502,447.6" fill="#00ad00"/>
<rect x="1514.5" y="424.6" width="8.6" height="3" fill="#fff"/>
<rect x="1510.3" y="431.8" width="16.9" height="2.8" fill="#fff"/>
<rect x="1505.8" y="439.6" width="25.9" height="2.8" fill="#fff"/>
<polygon points="1495.3,414.7 1520.5,458.4 1470.1,458.4" fill="#fff" stroke="#00ad00" stroke-width="3.9" stroke-linejoin="miter" stroke-dasharray="7.5 1.1"/>
<polygon points="1495.3,414.7 1512.1,443.8 1478.5,443.8" fill="#00ad00"/>
<line x1="1488.8" y1="422.8" x2="1488.8" y2="442.8" stroke="#fff" stroke-width="0.9" opacity="0.75"/>
<line x1="1496.8" y1="422.8" x2="1496.8" y2="442.8" stroke="#fff" stroke-width="0.9" opacity="0.75"/>
<line x1="1481.3" y1="434.8" x2="1509.3" y2="434.8" stroke="#fff" stroke-width="0.9" opacity="0.75"/>
<polygon points="1474.5,411.8 1499.7,455.5 1449.3,455.5" fill="#fff" stroke="#00ad00" stroke-width="3.9" stroke-linejoin="miter" stroke-dasharray="7.5 1.1"/>
<polygon points="1474.5,411.8 1491.3,440.9 1457.7,440.9" fill="#00ad00"/>
<line x1="1468" y1="419.9" x2="1468" y2="439.9" stroke="#fff" stroke-width="0.9" opacity="0.75"/>
<line x1="1476" y1="419.9" x2="1476" y2="439.9" stroke="#fff" stroke-width="0.9" opacity="0.75"/>
<line x1="1460.5" y1="431.9" x2="1488.5" y2="431.9" stroke="#fff" stroke-width="0.9" opacity="0.75"/>
<polygon points="1453.1,411.1 1478.3,454.8 1427.9,454.8" fill="#fff" stroke="#00ad00" stroke-width="3.9" stroke-linejoin="miter" stroke-dasharray="7.5 1.1"/>
<polygon points="1453.1,411.1 1469.9,440.2 1436.3,440.2" fill="#00ad00"/>
<line x1="1449.1" y1="416.2" x2="1449.1" y2="439.2" stroke="#fff" stroke-width="1.3" stroke-dasharray="1.3 2.7" opacity="0.9"/>
<line x1="1457.1" y1="416.2" x2="1457.1" y2="439.2" stroke="#fff" stroke-width="1.3" stroke-dasharray="1.3 2.7" opacity="0.9"/>
<polygon points="1429.6,409.6 1454.8,453.3 1404.4,453.3" fill="#fff" stroke="#00ad00" stroke-width="3.9" stroke-linejoin="miter" stroke-dasharray="7.5 1.1"/>
<polygon points="1429.6,409.6 1446.4,438.7 1412.8,438.7" fill="#00ad00"/>
<rect x="1425.3" y="415.7" width="8.6" height="3" fill="#fff"/>
<rect x="1421.1" y="422.9" width="16.9" height="2.8" fill="#fff"/>
<rect x="1416.6" y="430.7" width="25.9" height="2.8" fill="#fff"/>
<polygon points="1409,406.9 1434.2,450.6 1383.8,450.6" fill="#fff" stroke="#00ad00" stroke-width="3.9" stroke-linejoin="miter" stroke-dasharray="7.5 1.1"/>
<polygon points="1409,406.9 1425.8,436 1392.2,436" fill="#00ad00"/>
<line x1="1405" y1="412" x2="1405" y2="435" stroke="#fff" stroke-width="1.3" stroke-dasharray="1.3 2.7" opacity="0.9"/>
<line x1="1413" y1="412" x2="1413" y2="435" stroke="#fff" stroke-width="1.3" stroke-dasharray="1.3 2.7" opacity="0.9"/>
<polygon points="1387.3,403.8 1412.5,447.5 1362.1,447.5" fill="#fff" stroke="#00ad00" stroke-width="3.9" stroke-linejoin="miter" stroke-dasharray="7.5 1.1"/>
<polygon points="1387.3,403.8 1404.1,432.9 1370.5,432.9" fill="#00ad00"/>
<line x1="1380.8" y1="411.9" x2="1380.8" y2="431.9" stroke="#fff" stroke-width="0.9" opacity="0.75"/>
<line x1="1388.8" y1="411.9" x2="1388.8" y2="431.9" stroke="#fff" stroke-width="0.9" opacity="0.75"/>
<line x1="1373.3" y1="423.9" x2="1401.3" y2="423.9" stroke="#fff" stroke-width="0.9" opacity="0.75"/>
<polygon points="1364.5,401.8 1389.7,445.5 1339.3,445.5" fill="#fff" stroke="#00ad00" stroke-width="3.9" stroke-linejoin="miter" stroke-dasharray="7.5 1.1"/>
<polygon points="1364.5,401.8 1381.3,430.9 1347.7,430.9" fill="#00ad00"/>
<rect x="1360.2" y="407.9" width="8.6" height="3" fill="#fff"/>
<rect x="1356" y="415.1" width="16.9" height="2.8" fill="#fff"/>
<rect x="1351.5" y="422.9" width="25.9" height="2.8" fill="#fff"/>
<polygon points="1343.9,402.9 1369.1,446.6 1318.7,446.6" fill="#fff" stroke="#00ad00" stroke-width="3.9" stroke-linejoin="miter" stroke-dasharray="7.5 1.1"/>
<polygon points="1343.9,402.9 1360.7,432 1327.1,432" fill="#00ad00"/>
<line x1="1339.9" y1="408" x2="1339.9" y2="431" stroke="#fff" stroke-width="1.3" stroke-dasharray="1.3 2.7" opacity="0.9"/>
<line x1="1347.9" y1="408" x2="1347.9" y2="431" stroke="#fff" stroke-width="1.3" stroke-dasharray="1.3 2.7" opacity="0.9"/>
<polygon points="1319.9,405.1 1345.1,448.8 1294.7,448.8" fill="#fff" stroke="#00ad00" stroke-width="3.9" stroke-linejoin="miter" stroke-dasharray="7.5 1.1"/>
<polygon points="1319.9,405.1 1336.7,434.2 1303.1,434.2" fill="#00ad00"/>
<line x1="1313.4" y1="413.2" x2="1313.4" y2="433.2" stroke="#fff" stroke-width="0.9" opacity="0.75"/>
<line x1="1321.4" y1="413.2" x2="1321.4" y2="433.2" stroke="#fff" stroke-width="0.9" opacity="0.75"/>
<line x1="1305.9" y1="425.2" x2="1333.9" y2="425.2" stroke="#fff" stroke-width="0.9" opacity="0.75"/>
<polygon points="1300.3,401.8 1325.5,445.5 1275.1,445.5" fill="#fff" stroke="#00ad00" stroke-width="3.9" stroke-linejoin="miter" stroke-dasharray="7.5 1.1"/>
<polygon points="1300.3,401.8 1317.1,430.9 1283.5,430.9" fill="#00ad00"/>
<rect x="1296" y="407.9" width="8.6" height="3" fill="#fff"/>
<rect x="1291.8" y="415.1" width="16.9" height="2.8" fill="#fff"/>
<rect x="1287.3" y="422.9" width="25.9" height="2.8" fill="#fff"/>
<polygon points="1276.5,401.8 1301.7,445.5 1251.3,445.5" fill="#fff" stroke="#00ad00" stroke-width="3.9" stroke-linejoin="miter" stroke-dasharray="7.5 1.1"/>
<polygon points="1276.5,401.8 1293.3,430.9 1259.7,430.9" fill="#00ad00"/>
<line x1="1272.5" y1="406.9" x2="1272.5" y2="429.9" stroke="#fff" stroke-width="1.3" stroke-dasharray="1.3 2.7" opacity="0.9"/>
<line x1="1280.5" y1="406.9" x2="1280.5" y2="429.9" stroke="#fff" stroke-width="1.3" stroke-dasharray="1.3 2.7" opacity="0.9"/>
<polygon points="1255.7,405.1 1280.9,448.8 1230.5,448.8" fill="#fff" stroke="#00ad00" stroke-width="3.9" stroke-linejoin="miter" stroke-dasharray="7.5 1.1"/>
<polygon points="1255.7,405.1 1272.5,434.2 1238.9,434.2" fill="#00ad00"/>
<line x1="1249.2" y1="413.2" x2="1249.2" y2="433.2" stroke="#fff" stroke-width="0.9" opacity="0.75"/>
<line x1="1257.2" y1="413.2" x2="1257.2" y2="433.2" stroke="#fff" stroke-width="0.9" opacity="0.75"/>
<line x1="1241.7" y1="425.2" x2="1269.7" y2="425.2" stroke="#fff" stroke-width="0.9" opacity="0.75"/>
<polygon points="1233.4,411.1 1258.6,454.8 1208.2,454.8" fill="#fff" stroke="#00ad00" stroke-width="3.9" stroke-linejoin="miter" stroke-dasharray="7.5 1.1"/>
<polygon points="1233.4,411.1 1250.2,440.2 1216.6,440.2" fill="#00ad00"/>
<rect x="1229.1" y="417.2" width="8.6" height="3" fill="#fff"/>
<rect x="1224.9" y="424.4" width="16.9" height="2.8" fill="#fff"/>
<rect x="1220.4" y="432.2" width="25.9" height="2.8" fill="#fff"/>
<polygon points="1211.9,412.9 1237.1,456.6 1186.7,456.6" fill="#fff" stroke="#00ad00" stroke-width="3.9" stroke-linejoin="miter" stroke-dasharray="7.5 1.1"/>
<polygon points="1211.9,412.9 1228.7,442 1195.1,442" fill="#00ad00"/>
<rect x="1207.6" y="419" width="8.6" height="3" fill="#fff"/>
<rect x="1203.4" y="426.2" width="16.9" height="2.8" fill="#fff"/>
<rect x="1198.9" y="434" width="25.9" height="2.8" fill="#fff"/>
<polygon points="1189.3,417.8 1214.5,461.5 1164.1,461.5" fill="#fff" stroke="#00ad00" stroke-width="3.9" stroke-linejoin="miter" stroke-dasharray="7.5 1.1"/>
<polygon points="1189.3,417.8 1206.1,446.9 1172.5,446.9" fill="#00ad00"/>
<line x1="1185.3" y1="422.9" x2="1185.3" y2="445.9" stroke="#fff" stroke-width="1.3" stroke-dasharray="1.3 2.7" opacity="0.9"/>
<line x1="1193.3" y1="422.9" x2="1193.3" y2="445.9" stroke="#fff" stroke-width="1.3" stroke-dasharray="1.3 2.7" opacity="0.9"/>
<polygon points="1167.1,449.4 1192.3,493.1 1141.9,493.1" fill="#fff" stroke="#00ad00" stroke-width="3.9" stroke-linejoin="miter" stroke-dasharray="7.5 1.1"/>
<polygon points="1167.1,449.4 1183.9,478.5 1150.3,478.5" fill="#00ad00"/>
<line x1="1160.6" y1="457.5" x2="1160.6" y2="477.5" stroke="#fff" stroke-width="0.9" opacity="0.75"/>
<line x1="1168.6" y1="457.5" x2="1168.6" y2="477.5" stroke="#fff" stroke-width="0.9" opacity="0.75"/>
<line x1="1153.1" y1="469.5" x2="1181.1" y2="469.5" stroke="#fff" stroke-width="0.9" opacity="0.75"/>
<polygon points="1145.9,1216.5 1171.1,1260.2 1120.7,1260.2" fill="#fff" stroke="#00ad00" stroke-width="3.9" stroke-linejoin="miter" stroke-dasharray="7.5 1.1"/>
<polygon points="1145.9,1216.5 1162.7,1245.6 1129.1,1245.6" fill="#00ad00"/>
<line x1="1139.4" y1="1224.6" x2="1139.4" y2="1244.6" stroke="#fff" stroke-width="0.9" opacity="0.75"/>
<line x1="1147.4" y1="1224.6" x2="1147.4" y2="1244.6" stroke="#fff" stroke-width="0.9" opacity="0.75"/>
<line x1="1131.9" y1="1236.6" x2="1159.9" y2="1236.6" stroke="#fff" stroke-width="0.9" opacity="0.75"/>
<polygon points="1124.4,1225.7 1149.6,1269.4 1099.2,1269.4" fill="#fff" stroke="#00ad00" stroke-width="3.9" stroke-linejoin="miter" stroke-dasharray="7.5 1.1"/>
<polygon points="1124.4,1225.7 1141.2,1254.8 1107.6,1254.8" fill="#00ad00"/>
<rect x="1120.1" y="1231.8" width="8.6" height="3" fill="#fff"/>
<rect x="1115.9" y="1239" width="16.9" height="2.8" fill="#fff"/>
<rect x="1111.4" y="1246.8" width="25.9" height="2.8" fill="#fff"/>
<polygon points="1102.1,1230.3 1127.3,1274 1076.9,1274" fill="#fff" stroke="#00ad00" stroke-width="3.9" stroke-linejoin="miter" stroke-dasharray="7.5 1.1"/>
<polygon points="1102.1,1230.3 1118.9,1259.4 1085.3,1259.4" fill="#00ad00"/>
<line x1="1095.6" y1="1238.4" x2="1095.6" y2="1258.4" stroke="#fff" stroke-width="0.9" opacity="0.75"/>
<line x1="1103.6" y1="1238.4" x2="1103.6" y2="1258.4" stroke="#fff" stroke-width="0.9" opacity="0.75"/>
<line x1="1088.1" y1="1250.4" x2="1116.1" y2="1250.4" stroke="#fff" stroke-width="0.9" opacity="0.75"/>
<polygon points="1080.6,1234.6 1105.8,1278.3 1055.4,1278.3" fill="#fff" stroke="#00ad00" stroke-width="3.9" stroke-linejoin="miter" stroke-dasharray="7.5 1.1"/>
<polygon points="1080.6,1234.6 1097.4,1263.7 1063.8,1263.7" fill="#00ad00"/>
<line x1="1074.1" y1="1242.7" x2="1074.1" y2="1262.7" stroke="#fff" stroke-width="0.9" opacity="0.75"/>
<line x1="1082.1" y1="1242.7" x2="1082.1" y2="1262.7" stroke="#fff" stroke-width="0.9" opacity="0.75"/>
<line x1="1066.6" y1="1254.7" x2="1094.6" y2="1254.7" stroke="#fff" stroke-width="0.9" opacity="0.75"/>
<polygon points="1059.8,1237.7 1085,1281.4 1034.6,1281.4" fill="#fff" stroke="#00ad00" stroke-width="3.9" stroke-linejoin="miter" stroke-dasharray="7.5 1.1"/>
<polygon points="1059.8,1237.7 1076.6,1266.8 1043,1266.8" fill="#00ad00"/>
<line x1="1055.8" y1="1242.8" x2="1055.8" y2="1265.8" stroke="#fff" stroke-width="1.3" stroke-dasharray="1.3 2.7" opacity="0.9"/>
<line x1="1063.8" y1="1242.8" x2="1063.8" y2="1265.8" stroke="#fff" stroke-width="1.3" stroke-dasharray="1.3 2.7" opacity="0.9"/>
<polygon points="1036,1241.8 1061.2,1285.5 1010.8,1285.5" fill="#fff" stroke="#00ad00" stroke-width="3.9" stroke-linejoin="miter" stroke-dasharray="7.5 1.1"/>
<polygon points="1036,1241.8 1052.8,1270.9 1019.2,1270.9" fill="#00ad00"/>
<rect x="1031.7" y="1247.9" width="8.6" height="3" fill="#fff"/>
<rect x="1027.5" y="1255.1" width="16.9" height="2.8" fill="#fff"/>
<rect x="1023" y="1262.9" width="25.9" height="2.8" fill="#fff"/>
<polygon points="1016,1243.4 1041.2,1287.1 990.8,1287.1" fill="#fff" stroke="#00ad00" stroke-width="3.9" stroke-linejoin="miter" stroke-dasharray="7.5 1.1"/>
<polygon points="1016,1243.4 1032.8,1272.5 999.2,1272.5" fill="#00ad00"/>
<line x1="1012" y1="1248.5" x2="1012" y2="1271.5" stroke="#fff" stroke-width="1.3" stroke-dasharray="1.3 2.7" opacity="0.9"/>
<line x1="1020" y1="1248.5" x2="1020" y2="1271.5" stroke="#fff" stroke-width="1.3" stroke-dasharray="1.3 2.7" opacity="0.9"/>
<polygon points="992.5,1246.4 1017.7,1290.1 967.3,1290.1" fill="#fff" stroke="#00ad00" stroke-width="3.9" stroke-linejoin="miter" stroke-dasharray="7.5 1.1"/>
<polygon points="992.5,1246.4 1009.3,1275.5 975.7,1275.5" fill="#00ad00"/>
<line x1="986" y1="1254.5" x2="986" y2="1274.5" stroke="#fff" stroke-width="0.9" opacity="0.75"/>
<line x1="994" y1="1254.5" x2="994" y2="1274.5" stroke="#fff" stroke-width="0.9" opacity="0.75"/>
<line x1="978.5" y1="1266.5" x2="1006.5" y2="1266.5" stroke="#fff" stroke-width="0.9" opacity="0.75"/>
<polygon points="972.2,1248.7 997.4,1292.4 947,1292.4" fill="#fff" stroke="#00ad00" stroke-width="3.9" stroke-linejoin="miter" stroke-dasharray="7.5 1.1"/>
<polygon points="972.2,1248.7 989,1277.8 955.4,1277.8" fill="#00ad00"/>
<rect x="967.9" y="1254.8" width="8.6" height="3" fill="#fff"/>
<rect x="963.7" y="1262" width="16.9" height="2.8" fill="#fff"/>
<rect x="959.2" y="1269.8" width="25.9" height="2.8" fill="#fff"/>
<polygon points="948.4,1251.8 973.6,1295.5 923.2,1295.5" fill="#fff" stroke="#00ad00" stroke-width="3.9" stroke-linejoin="miter" stroke-dasharray="7.5 1.1"/>
<polygon points="948.4,1251.8 965.2,1280.9 931.6,1280.9" fill="#00ad00"/>
<line x1="944.4" y1="1256.9" x2="944.4" y2="1279.9" stroke="#fff" stroke-width="1.3" stroke-dasharray="1.3 2.7" opacity="0.9"/>
<line x1="952.4" y1="1256.9" x2="952.4" y2="1279.9" stroke="#fff" stroke-width="1.3" stroke-dasharray="1.3 2.7" opacity="0.9"/>
<polygon points="928.4,1254.9 953.6,1298.6 903.2,1298.6" fill="#fff" stroke="#00ad00" stroke-width="3.9" stroke-linejoin="miter" stroke-dasharray="7.5 1.1"/>
<polygon points="928.4,1254.9 945.2,1284 911.6,1284" fill="#00ad00"/>
<line x1="921.9" y1="1263" x2="921.9" y2="1283" stroke="#fff" stroke-width="0.9" opacity="0.75"/>
<line x1="929.9" y1="1263" x2="929.9" y2="1283" stroke="#fff" stroke-width="0.9" opacity="0.75"/>
<line x1="914.4" y1="1275" x2="942.4" y2="1275" stroke="#fff" stroke-width="0.9" opacity="0.75"/>
<polygon points="906.1,1254.9 931.3,1298.6 880.9,1298.6" fill="#fff" stroke="#00ad00" stroke-width="3.9" stroke-linejoin="miter" stroke-dasharray="7.5 1.1"/>
<polygon points="906.1,1254.9 922.9,1284 889.3,1284" fill="#00ad00"/>
<rect x="901.8" y="1261" width="8.6" height="3" fill="#fff"/>
<rect x="897.6" y="1268.2" width="16.9" height="2.8" fill="#fff"/>
<rect x="893.1" y="1276" width="25.9" height="2.8" fill="#fff"/>
<polygon points="883.8,1258.7 909,1302.4 858.6,1302.4" fill="#fff" stroke="#00ad00" stroke-width="3.9" stroke-linejoin="miter" stroke-dasharray="7.5 1.1"/>
<polygon points="883.8,1258.7 900.6,1287.8 867,1287.8" fill="#00ad00"/>
<line x1="879.8" y1="1263.8" x2="879.8" y2="1286.8" stroke="#fff" stroke-width="1.3" stroke-dasharray="1.3 2.7" opacity="0.9"/>
<line x1="887.8" y1="1263.8" x2="887.8" y2="1286.8" stroke="#fff" stroke-width="1.3" stroke-dasharray="1.3 2.7" opacity="0.9"/>
<polygon points="862.8,1258.1 888,1301.8 837.6,1301.8" fill="#fff" stroke="#00ad00" stroke-width="3.9" stroke-linejoin="miter" stroke-dasharray="7.5 1.1"/>
<polygon points="862.8,1258.1 879.6,1287.2 846,1287.2" fill="#00ad00"/>
<line x1="856.3" y1="1266.2" x2="856.3" y2="1286.2" stroke="#fff" stroke-width="0.9" opacity="0.75"/>
<line x1="864.3" y1="1266.2" x2="864.3" y2="1286.2" stroke="#fff" stroke-width="0.9" opacity="0.75"/>
<line x1="848.8" y1="1278.2" x2="876.8" y2="1278.2" stroke="#fff" stroke-width="0.9" opacity="0.75"/>
<polygon points="839.7,1260.4 864.9,1304.1 814.5,1304.1" fill="#fff" stroke="#00ad00" stroke-width="3.9" stroke-linejoin="miter" stroke-dasharray="7.5 1.1"/>
<polygon points="839.7,1260.4 856.5,1289.5 822.9,1289.5" fill="#00ad00"/>
<rect x="835.4" y="1266.5" width="8.6" height="3" fill="#fff"/>
<rect x="831.2" y="1273.7" width="16.9" height="2.8" fill="#fff"/>
<rect x="826.7" y="1281.5" width="25.9" height="2.8" fill="#fff"/>
<polygon points="817.9,1262.7 843.1,1306.4 792.7,1306.4" fill="#fff" stroke="#00ad00" stroke-width="3.9" stroke-linejoin="miter" stroke-dasharray="7.5 1.1"/>
<polygon points="817.9,1262.7 834.7,1291.8 801.1,1291.8" fill="#00ad00"/>
<rect x="813.6" y="1268.8" width="8.6" height="3" fill="#fff"/>
<rect x="809.4" y="1276" width="16.9" height="2.8" fill="#fff"/>
<rect x="804.9" y="1283.8" width="25.9" height="2.8" fill="#fff"/>
<polygon points="795.9,1264.3 821.1,1308 770.7,1308" fill="#fff" stroke="#00ad00" stroke-width="3.9" stroke-linejoin="miter" stroke-dasharray="7.5 1.1"/>
<polygon points="795.9,1264.3 812.7,1293.4 779.1,1293.4" fill="#00ad00"/>
<line x1="791.9" y1="1269.4" x2="791.9" y2="1292.4" stroke="#fff" stroke-width="1.3" stroke-dasharray="1.3 2.7" opacity="0.9"/>
<line x1="799.9" y1="1269.4" x2="799.9" y2="1292.4" stroke="#fff" stroke-width="1.3" stroke-dasharray="1.3 2.7" opacity="0.9"/>
<polygon points="775.2,1266.5 800.4,1310.2 750,1310.2" fill="#fff" stroke="#00ad00" stroke-width="3.9" stroke-linejoin="miter" stroke-dasharray="7.5 1.1"/>
<polygon points="775.2,1266.5 792,1295.6 758.4,1295.6" fill="#00ad00"/>
<line x1="768.7" y1="1274.6" x2="768.7" y2="1294.6" stroke="#fff" stroke-width="0.9" opacity="0.75"/>
<line x1="776.7" y1="1274.6" x2="776.7" y2="1294.6" stroke="#fff" stroke-width="0.9" opacity="0.75"/>
<line x1="761.2" y1="1286.6" x2="789.2" y2="1286.6" stroke="#fff" stroke-width="0.9" opacity="0.75"/>
<polygon points="751.3,1267.3 776.5,1311 726.1,1311" fill="#fff" stroke="#00ad00" stroke-width="3.9" stroke-linejoin="miter" stroke-dasharray="7.5 1.1"/>
<polygon points="751.3,1267.3 768.1,1296.4 734.5,1296.4" fill="#00ad00"/>
<line x1="744.8" y1="1275.4" x2="744.8" y2="1295.4" stroke="#fff" stroke-width="0.9" opacity="0.75"/>
<line x1="752.8" y1="1275.4" x2="752.8" y2="1295.4" stroke="#fff" stroke-width="0.9" opacity="0.75"/>
<line x1="737.3" y1="1287.4" x2="765.3" y2="1287.4" stroke="#fff" stroke-width="0.9" opacity="0.75"/>
<polygon points="731.4,1270.4 756.6,1314.1 706.2,1314.1" fill="#fff" stroke="#00ad00" stroke-width="3.9" stroke-linejoin="miter" stroke-dasharray="7.5 1.1"/>
<polygon points="731.4,1270.4 748.2,1299.5 714.6,1299.5" fill="#00ad00"/>
<rect x="727.1" y="1276.5" width="8.6" height="3" fill="#fff"/>
<rect x="722.9" y="1283.7" width="16.9" height="2.8" fill="#fff"/>
<rect x="718.4" y="1291.5" width="25.9" height="2.8" fill="#fff"/>
<polygon points="709.8,1271.6 735,1315.3 684.6,1315.3" fill="#fff" stroke="#00ad00" stroke-width="3.9" stroke-linejoin="miter" stroke-dasharray="7.5 1.1"/>
<polygon points="709.8,1271.6 726.6,1300.7 693,1300.7" fill="#00ad00"/>
<line x1="703.3" y1="1279.7" x2="703.3" y2="1299.7" stroke="#fff" stroke-width="0.9" opacity="0.75"/>
<line x1="711.3" y1="1279.7" x2="711.3" y2="1299.7" stroke="#fff" stroke-width="0.9" opacity="0.75"/>
<line x1="695.8" y1="1291.7" x2="723.8" y2="1291.7" stroke="#fff" stroke-width="0.9" opacity="0.75"/>
<polygon points="686.8,1272.7 712,1316.4 661.6,1316.4" fill="#fff" stroke="#00ad00" stroke-width="3.9" stroke-linejoin="miter" stroke-dasharray="7.5 1.1"/>
<polygon points="686.8,1272.7 703.6,1301.8 670,1301.8" fill="#00ad00"/>
<line x1="680.3" y1="1280.8" x2="680.3" y2="1300.8" stroke="#fff" stroke-width="0.9" opacity="0.75"/>
<line x1="688.3" y1="1280.8" x2="688.3" y2="1300.8" stroke="#fff" stroke-width="0.9" opacity="0.75"/>
<line x1="672.8" y1="1292.8" x2="700.8" y2="1292.8" stroke="#fff" stroke-width="0.9" opacity="0.75"/>
<polygon points="664.2,1272.7 689.4,1316.4 639,1316.4" fill="#fff" stroke="#00ad00" stroke-width="3.9" stroke-linejoin="miter" stroke-dasharray="7.5 1.1"/>
<polygon points="664.2,1272.7 681,1301.8 647.4,1301.8" fill="#00ad00"/>
<line x1="660.2" y1="1277.8" x2="660.2" y2="1300.8" stroke="#fff" stroke-width="1.3" stroke-dasharray="1.3 2.7" opacity="0.9"/>
<line x1="668.2" y1="1277.8" x2="668.2" y2="1300.8" stroke="#fff" stroke-width="1.3" stroke-dasharray="1.3 2.7" opacity="0.9"/>
<polygon points="644.2,1274.7 669.4,1318.4 619,1318.4" fill="#fff" stroke="#00ad00" stroke-width="3.9" stroke-linejoin="miter" stroke-dasharray="7.5 1.1"/>
<polygon points="644.2,1274.7 661,1303.8 627.4,1303.8" fill="#00ad00"/>
<rect x="639.9" y="1280.8" width="8.6" height="3" fill="#fff"/>
<rect x="635.7" y="1288" width="16.9" height="2.8" fill="#fff"/>
<rect x="631.2" y="1295.8" width="25.9" height="2.8" fill="#fff"/>
<polygon points="620.7,1276.2 645.9,1319.9 595.5,1319.9" fill="#fff" stroke="#00ad00" stroke-width="3.9" stroke-linejoin="miter" stroke-dasharray="7.5 1.1"/>
<polygon points="620.7,1276.2 637.5,1305.3 603.9,1305.3" fill="#00ad00"/>
<line x1="616.7" y1="1281.3" x2="616.7" y2="1304.3" stroke="#fff" stroke-width="1.3" stroke-dasharray="1.3 2.7" opacity="0.9"/>
<line x1="624.7" y1="1281.3" x2="624.7" y2="1304.3" stroke="#fff" stroke-width="1.3" stroke-dasharray="1.3 2.7" opacity="0.9"/>
<polygon points="600,1275.3 625.2,1319 574.8,1319" fill="#fff" stroke="#00ad00" stroke-width="3.9" stroke-linejoin="miter" stroke-dasharray="7.5 1.1"/>
<polygon points="600,1275.3 616.8,1304.4 583.2,1304.4" fill="#00ad00"/>
<line x1="593.5" y1="1283.4" x2="593.5" y2="1303.4" stroke="#fff" stroke-width="0.9" opacity="0.75"/>
<line x1="601.5" y1="1283.4" x2="601.5" y2="1303.4" stroke="#fff" stroke-width="0.9" opacity="0.75"/>
<line x1="586" y1="1295.4" x2="614" y2="1295.4" stroke="#fff" stroke-width="0.9" opacity="0.75"/>
<polygon points="576.9,1278.8 602.1,1322.5 551.7,1322.5" fill="#fff" stroke="#00ad00" stroke-width="3.9" stroke-linejoin="miter" stroke-dasharray="7.5 1.1"/>
<polygon points="576.9,1278.8 593.7,1307.9 560.1,1307.9" fill="#00ad00"/>
<rect x="572.6" y="1284.9" width="8.6" height="3" fill="#fff"/>
<rect x="568.4" y="1292.1" width="16.9" height="2.8" fill="#fff"/>
<rect x="563.9" y="1299.9" width="25.9" height="2.8" fill="#fff"/>
<polygon points="557.2,1278.8 582.4,1322.5 532,1322.5" fill="#fff" stroke="#00ad00" stroke-width="3.9" stroke-linejoin="miter" stroke-dasharray="7.5 1.1"/>
<polygon points="557.2,1278.8 574,1307.9 540.4,1307.9" fill="#00ad00"/>
<line x1="553.2" y1="1283.9" x2="553.2" y2="1306.9" stroke="#fff" stroke-width="1.3" stroke-dasharray="1.3 2.7" opacity="0.9"/>
<line x1="561.2" y1="1283.9" x2="561.2" y2="1306.9" stroke="#fff" stroke-width="1.3" stroke-dasharray="1.3 2.7" opacity="0.9"/>
<polygon points="534.4,1462 559.6,1505.7 509.2,1505.7" fill="#fff" stroke="#00ad00" stroke-width="3.9" stroke-linejoin="miter" stroke-dasharray="7.5 1.1"/>
<polygon points="534.4,1462 551.2,1491.1 517.6,1491.1" fill="#00ad00"/>
<line x1="527.9" y1="1470.1" x2="527.9" y2="1490.1" stroke="#fff" stroke-width="0.9" opacity="0.75"/>
<line x1="535.9" y1="1470.1" x2="535.9" y2="1490.1" stroke="#fff" stroke-width="0.9" opacity="0.75"/>
<line x1="520.4" y1="1482.1" x2="548.4" y2="1482.1" stroke="#fff" stroke-width="0.9" opacity="0.75"/>
<polygon points="510.8,1468.6 536,1512.3 485.6,1512.3" fill="#fff" stroke="#00ad00" stroke-width="3.9" stroke-linejoin="miter" stroke-dasharray="7.5 1.1"/>
<polygon points="510.8,1468.6 527.6,1497.7 494,1497.7" fill="#00ad00"/>
<rect x="506.5" y="1474.7" width="8.6" height="3" fill="#fff"/>
<rect x="502.3" y="1481.9" width="16.9" height="2.8" fill="#fff"/>
<rect x="497.8" y="1489.7" width="25.9" height="2.8" fill="#fff"/>
<polygon points="491.2,1468.6 516.4,1512.3 466,1512.3" fill="#fff" stroke="#00ad00" stroke-width="3.9" stroke-linejoin="miter" stroke-dasharray="7.5 1.1"/>
<polygon points="491.2,1468.6 508,1497.7 474.4,1497.7" fill="#00ad00"/>
<line x1="487.2" y1="1473.7" x2="487.2" y2="1496.7" stroke="#fff" stroke-width="1.3" stroke-dasharray="1.3 2.7" opacity="0.9"/>
<line x1="495.2" y1="1473.7" x2="495.2" y2="1496.7" stroke="#fff" stroke-width="1.3" stroke-dasharray="1.3 2.7" opacity="0.9"/>
<polygon points="468.5,1468.6 493.7,1512.3 443.3,1512.3" fill="#fff" stroke="#00ad00" stroke-width="3.9" stroke-linejoin="miter" stroke-dasharray="7.5 1.1"/>
<polygon points="468.5,1468.6 485.3,1497.7 451.7,1497.7" fill="#00ad00"/>
<line x1="462" y1="1476.7" x2="462" y2="1496.7" stroke="#fff" stroke-width="0.9" opacity="0.75"/>
<line x1="470" y1="1476.7" x2="470" y2="1496.7" stroke="#fff" stroke-width="0.9" opacity="0.75"/>
<line x1="454.5" y1="1488.7" x2="482.5" y2="1488.7" stroke="#fff" stroke-width="0.9" opacity="0.75"/>
<polygon points="447.4,1468.6 472.6,1512.3 422.2,1512.3" fill="#fff" stroke="#00ad00" stroke-width="3.9" stroke-linejoin="miter" stroke-dasharray="7.5 1.1"/>
<polygon points="447.4,1468.6 464.2,1497.7 430.6,1497.7" fill="#00ad00"/>
<rect x="443.1" y="1474.7" width="8.6" height="3" fill="#fff"/>
<rect x="438.9" y="1481.9" width="16.9" height="2.8" fill="#fff"/>
<rect x="434.4" y="1489.7" width="25.9" height="2.8" fill="#fff"/>
</g>
<line x1="1175.7" y1="103" x2="1170.4" y2="1534" stroke="#000" stroke-width="5.6" stroke-dasharray="25.9 25.15"/>
<polygon points="1158,1534.3 1183,1534.3 1170.4,1584.5" fill="#000"/>
<line x1="542.6" y1="419.2" x2="558.9" y2="1519" stroke="#000" stroke-width="5.6" stroke-dasharray="25.9 25.13"/>
<polygon points="547,1519.9 571.3,1519.9 559.5,1570.4" fill="#000"/>
<polyline points="763.7,278 761.3,298.8 752.8,320.7 737.9,342.6 719,364.5 694.1,387.4 668.2,407.3 638.4,428.1 608.5,447 576.7,466.9 544.9,482.8 511.1,500.8 452.4,529.6 397.7,556 385,562" fill="none" stroke="#000" stroke-width="3.8" stroke-linejoin="round"/>
<polygon points="353.9,570.4 394.7,549.5 400.7,570.4" fill="#000"/>
<polyline points="940.3,282.7 950.4,313.9 977,346.4 1016.3,379 1066.5,411 1126.1,442.7 1175,464.4 1264.5,503.8 1348.5,535 1486.9,579.7 1566.7,607.6 1665.5,638.1 1743.7,657.7 1870.6,689.4 1949.5,710.5 1962,714" fill="none" stroke="#000" stroke-width="3.8" stroke-linejoin="round"/>
<polygon points="1992.7,721.1 1952.4,699.6 1946.3,721.1" fill="#000"/>
<line x1="285" y1="1560.2" x2="300" y2="1560.2" stroke="#000" stroke-width="5.6"/>
<line x1="270.3" y1="1411" x2="300" y2="1411" stroke="#000" stroke-width="5.6"/>
<text transform="translate(249.6 1432) scale(1.0 1.025)" font-family="'Liberation Sans', Arial, sans-serif" font-size="70" text-anchor="end">4</text>
<line x1="285" y1="1261.9" x2="300" y2="1261.9" stroke="#000" stroke-width="5.6"/>
<line x1="270.3" y1="1112.7" x2="300" y2="1112.7" stroke="#000" stroke-width="5.6"/>
<text transform="translate(249.6 1133.7) scale(1.0 1.025)" font-family="'Liberation Sans', Arial, sans-serif" font-size="70" text-anchor="end">6</text>
<line x1="285" y1="963.6" x2="300" y2="963.6" stroke="#000" stroke-width="5.6"/>
<line x1="270.3" y1="814.5" x2="300" y2="814.5" stroke="#000" stroke-width="5.6"/>
<text transform="translate(249.6 835.5) scale(1.0 1.025)" font-family="'Liberation Sans', Arial, sans-serif" font-size="70" text-anchor="end">8</text>
<line x1="285" y1="665.3" x2="300" y2="665.3" stroke="#000" stroke-width="5.6"/>
<line x1="270.3" y1="516.2" x2="300" y2="516.2" stroke="#000" stroke-width="5.6"/>
<text transform="translate(249.6 537.2) scale(1.0 1.025)" font-family="'Liberation Sans', Arial, sans-serif" font-size="70" text-anchor="end">10</text>
<line x1="285" y1="367" x2="300" y2="367" stroke="#000" stroke-width="5.6"/>
<line x1="270.3" y1="217.9" x2="300" y2="217.9" stroke="#000" stroke-width="5.6"/>
<text transform="translate(249.6 238.9) scale(1.0 1.025)" font-family="'Liberation Sans', Arial, sans-serif" font-size="70" text-anchor="end">12</text>
<line x1="285" y1="68.8" x2="300" y2="68.8" stroke="#000" stroke-width="5.6"/>
<line x1="484.5" y1="1560" x2="484.5" y2="1588" stroke="#000" stroke-width="5.6"/>
<text transform="translate(484.5 1664.5) scale(1.0 1.025)" font-family="'Liberation Sans', Arial, sans-serif" font-size="70" text-anchor="middle">300</text>
<line x1="703.8" y1="1560" x2="703.8" y2="1573.4" stroke="#000" stroke-width="5.6"/>
<line x1="923" y1="1560" x2="923" y2="1588" stroke="#000" stroke-width="5.6"/>
<text transform="translate(923 1664.5) scale(1.0 1.025)" font-family="'Liberation Sans', Arial, sans-serif" font-size="70" text-anchor="middle">320</text>
<line x1="1142.2" y1="1560" x2="1142.2" y2="1573.4" stroke="#000" stroke-width="5.6"/>
<line x1="1361.5" y1="1560" x2="1361.5" y2="1588" stroke="#000" stroke-width="5.6"/>
<text transform="translate(1361.5 1664.5) scale(1.0 1.025)" font-family="'Liberation Sans', Arial, sans-serif" font-size="70" text-anchor="middle">340</text>
<line x1="1580.8" y1="1560" x2="1580.8" y2="1573.4" stroke="#000" stroke-width="5.6"/>
<line x1="1800" y1="1560" x2="1800" y2="1588" stroke="#000" stroke-width="5.6"/>
<text transform="translate(1800 1664.5) scale(1.0 1.025)" font-family="'Liberation Sans', Arial, sans-serif" font-size="70" text-anchor="middle">360</text>
<line x1="2019.2" y1="1560" x2="2019.2" y2="1573.4" stroke="#000" stroke-width="5.6"/>
<line x1="285" y1="68.8" x2="2150" y2="68.8" stroke="#000" stroke-width="5.6"/>
<line x1="285" y1="1560" x2="2150" y2="1560" stroke="#000" stroke-width="5.6"/>
<line x1="299.5" y1="66" x2="299.5" y2="1562.8" stroke="#000" stroke-width="5.4"/>
<line x1="2121" y1="1499.3" x2="2150" y2="1499.3" stroke="#008000" stroke-width="5.2"/>
<text transform="translate(2181.5 1520.3) scale(1.0 1.025)" font-family="'Liberation Sans', Arial, sans-serif" font-size="70">0</text>
<line x1="2135.5" y1="1349.2" x2="2150" y2="1349.2" stroke="#008000" stroke-width="5.2"/>
<line x1="2121" y1="1199.2" x2="2150" y2="1199.2" stroke="#008000" stroke-width="5.2"/>
<text transform="translate(2181.5 1220.2) scale(1.0 1.025)" font-family="'Liberation Sans', Arial, sans-serif" font-size="70">1</text>
<line x1="2135.5" y1="1049.1" x2="2150" y2="1049.1" stroke="#008000" stroke-width="5.2"/>
<line x1="2121" y1="899" x2="2150" y2="899" stroke="#008000" stroke-width="5.2"/>
<text transform="translate(2181.5 920) scale(1.0 1.025)" font-family="'Liberation Sans', Arial, sans-serif" font-size="70">2</text>
<line x1="2135.5" y1="748.9" x2="2150" y2="748.9" stroke="#008000" stroke-width="5.2"/>
<line x1="2121" y1="598.9" x2="2150" y2="598.9" stroke="#008000" stroke-width="5.2"/>
<text transform="translate(2181.5 619.9) scale(1.0 1.025)" font-family="'Liberation Sans', Arial, sans-serif" font-size="70">3</text>
<line x1="2135.5" y1="448.8" x2="2150" y2="448.8" stroke="#008000" stroke-width="5.2"/>
<line x1="2121" y1="298.7" x2="2150" y2="298.7" stroke="#008000" stroke-width="5.2"/>
<text transform="translate(2181.5 319.7) scale(1.0 1.025)" font-family="'Liberation Sans', Arial, sans-serif" font-size="70">4</text>
<line x1="2135.5" y1="148.6" x2="2150" y2="148.6" stroke="#008000" stroke-width="5.2"/>
<line x1="2150" y1="66" x2="2150" y2="1562.8" stroke="#008000" stroke-width="5.4"/>
<g id="inset">
<line x1="1417.2" y1="1462" x2="1417.2" y2="1467.5" stroke="#000" stroke-width="2"/>
<line x1="1494.3" y1="1462" x2="1494.3" y2="1473.5" stroke="#000" stroke-width="2"/>
<text transform="translate(1494.3 1512.2) scale(1.0 1.0)" font-family="'Liberation Sans', Arial, sans-serif" font-size="39.5" text-anchor="middle">335</text>
<line x1="1571.4" y1="1462" x2="1571.4" y2="1467.5" stroke="#000" stroke-width="2"/>
<line x1="1648.5" y1="1462" x2="1648.5" y2="1473.5" stroke="#000" stroke-width="2"/>
<text transform="translate(1648.5 1512.2) scale(1.0 1.0)" font-family="'Liberation Sans', Arial, sans-serif" font-size="39.5" text-anchor="middle">340</text>
<line x1="1725.6" y1="1462" x2="1725.6" y2="1467.5" stroke="#000" stroke-width="2"/>
<line x1="1802.7" y1="1462" x2="1802.7" y2="1473.5" stroke="#000" stroke-width="2"/>
<text transform="translate(1802.7 1512.2) scale(1.0 1.0)" font-family="'Liberation Sans', Arial, sans-serif" font-size="39.5" text-anchor="middle">345</text>
<line x1="1879.8" y1="1462" x2="1879.8" y2="1467.5" stroke="#000" stroke-width="2"/>
<line x1="1956.9" y1="1462" x2="1956.9" y2="1473.5" stroke="#000" stroke-width="2"/>
<text transform="translate(1956.9 1512.2) scale(1.0 1.0)" font-family="'Liberation Sans', Arial, sans-serif" font-size="39.5" text-anchor="middle">350</text>
<line x1="2034" y1="1462" x2="2034" y2="1467.5" stroke="#000" stroke-width="2"/>
<line x1="2111.1" y1="1462" x2="2111.1" y2="1473.5" stroke="#000" stroke-width="2"/>
<line x1="1371" y1="1445.4" x2="1377" y2="1445.4" stroke="#000" stroke-width="2"/>
<line x1="1365" y1="1345.4" x2="1377" y2="1345.4" stroke="#000" stroke-width="2"/>
<text transform="translate(1356.4 1356.9) scale(1.0 1.0)" font-family="'Liberation Sans', Arial, sans-serif" font-size="39.5" text-anchor="end">11.6</text>
<line x1="1371" y1="1245.4" x2="1377" y2="1245.4" stroke="#000" stroke-width="2"/>
<line x1="1365" y1="1145.4" x2="1377" y2="1145.4" stroke="#000" stroke-width="2"/>
<text transform="translate(1356.4 1156.9) scale(1.0 1.0)" font-family="'Liberation Sans', Arial, sans-serif" font-size="39.5" text-anchor="end">11.8</text>
<line x1="1371" y1="1045.4" x2="1377" y2="1045.4" stroke="#000" stroke-width="2"/>
<line x1="1365" y1="945.4" x2="1377" y2="945.4" stroke="#000" stroke-width="2"/>
<text transform="translate(1356.4 956.9) scale(1.0 1.0)" font-family="'Liberation Sans', Arial, sans-serif" font-size="39.5" text-anchor="end">12.0</text>
<clipPath id="ic"><rect x="1377" y="876.4" width="755.5" height="585.6"/></clipPath>
<g clip-path="url(#ic)">
<polygon points="1408,946.3 1423.9,962.2 1408,978.1 1392.1,962.2" fill="none" stroke="#0000ff" stroke-width="3" stroke-linejoin="miter"/>
<polygon points="1438.4,931.9 1454.3,947.8 1438.4,963.7 1422.5,947.8" fill="none" stroke="#0000ff" stroke-width="3" stroke-linejoin="miter"/>
<polygon points="1469.5,923.7 1485.4,939.6 1469.5,955.5 1453.6,939.6" fill="none" stroke="#0000ff" stroke-width="3" stroke-linejoin="miter"/>
<polygon points="1500.2,920.1 1516.1,936 1500.2,951.9 1484.3,936" fill="none" stroke="#0000ff" stroke-width="3" stroke-linejoin="miter"/>
<polygon points="1530.9,920.1 1546.8,936 1530.9,951.9 1515,936" fill="none" stroke="#0000ff" stroke-width="3" stroke-linejoin="miter"/>
<polygon points="1561.3,922.8 1577.2,938.7 1561.3,954.6 1545.4,938.7" fill="none" stroke="#0000ff" stroke-width="3" stroke-linejoin="miter"/>
<polygon points="1592.4,928.2 1608.3,944.1 1592.4,960 1576.5,944.1" fill="none" stroke="#0000ff" stroke-width="3" stroke-linejoin="miter"/>
<polygon points="1622.8,935.5 1638.7,951.4 1622.8,967.3 1606.9,951.4" fill="none" stroke="#0000ff" stroke-width="3" stroke-linejoin="miter"/>
<polygon points="1653.9,945.4 1669.8,961.3 1653.9,977.2 1638,961.3" fill="none" stroke="#0000ff" stroke-width="3" stroke-linejoin="miter"/>
<polygon points="1684.3,956.3 1700.2,972.2 1684.3,988.1 1668.4,972.2" fill="none" stroke="#0000ff" stroke-width="3" stroke-linejoin="miter"/>
<polygon points="1715.4,968 1731.3,983.9 1715.4,999.8 1699.5,983.9" fill="none" stroke="#0000ff" stroke-width="3" stroke-linejoin="miter"/>
<polygon points="1746.3,981.6 1762.2,997.5 1746.3,1013.4 1730.4,997.5" fill="none" stroke="#0000ff" stroke-width="3" stroke-linejoin="miter"/>
<polygon points="1777.4,997.1 1793.3,1013 1777.4,1028.9 1761.5,1013" fill="none" stroke="#0000ff" stroke-width="3" stroke-linejoin="miter"/>
<polygon points="1808,1013.4 1823.9,1029.3 1808,1045.2 1792.1,1029.3" fill="none" stroke="#0000ff" stroke-width="3" stroke-linejoin="miter"/>
<polygon points="1838.9,1029.7 1854.8,1045.6 1838.9,1061.5 1823,1045.6" fill="none" stroke="#0000ff" stroke-width="3" stroke-linejoin="miter"/>
<polygon points="1869.5,1047.4 1885.4,1063.3 1869.5,1079.2 1853.6,1063.3" fill="none" stroke="#0000ff" stroke-width="3" stroke-linejoin="miter"/>
<polygon points="1900.4,1065.8 1916.3,1081.7 1900.4,1097.6 1884.5,1081.7" fill="none" stroke="#0000ff" stroke-width="3" stroke-linejoin="miter"/>
<polygon points="1931,1083.6 1946.9,1099.5 1931,1115.4 1915.1,1099.5" fill="none" stroke="#0000ff" stroke-width="3" stroke-linejoin="miter"/>
<polygon points="1961.9,1102 1977.8,1117.9 1961.9,1133.8 1946,1117.9" fill="none" stroke="#0000ff" stroke-width="3" stroke-linejoin="miter"/>
<polygon points="1992.4,1121.9 2008.3,1137.8 1992.4,1153.7 1976.5,1137.8" fill="none" stroke="#0000ff" stroke-width="3" stroke-linejoin="miter"/>
<polygon points="2023.4,1141.8 2039.3,1157.7 2023.4,1173.6 2007.5,1157.7" fill="none" stroke="#0000ff" stroke-width="3" stroke-linejoin="miter"/>
<polygon points="2054.1,1162.6 2070,1178.5 2054.1,1194.4 2038.2,1178.5" fill="none" stroke="#0000ff" stroke-width="3" stroke-linejoin="miter"/>
<polygon points="2084.5,1182.5 2100.4,1198.4 2084.5,1214.3 2068.6,1198.4" fill="none" stroke="#0000ff" stroke-width="3" stroke-linejoin="miter"/>
<polygon points="2115.3,1205.6 2131.2,1221.5 2115.3,1237.4 2099.4,1221.5" fill="none" stroke="#0000ff" stroke-width="3" stroke-linejoin="miter"/>
<polygon points="2146,1227.1 2161.9,1243 2146,1258.9 2130.1,1243" fill="none" stroke="#0000ff" stroke-width="3" stroke-linejoin="miter"/>
<polygon points="1407.5,1174.8 1421.5,1197.7 1393.5,1197.7" fill="none" stroke="#872a00" stroke-width="3.2" stroke-linejoin="miter"/>
<polygon points="1437.9,1163.6 1452,1186.5 1423.9,1186.5" fill="none" stroke="#872a00" stroke-width="3.2" stroke-linejoin="miter"/>
<polygon points="1469,1158 1483,1180.9 1455,1180.9" fill="none" stroke="#872a00" stroke-width="3.2" stroke-linejoin="miter"/>
<polygon points="1499.9,1157.3 1514,1180.2 1485.9,1180.2" fill="none" stroke="#872a00" stroke-width="3.2" stroke-linejoin="miter"/>
<polygon points="1531,1160 1545,1182.9 1517,1182.9" fill="none" stroke="#872a00" stroke-width="3.2" stroke-linejoin="miter"/>
<polygon points="1561.6,1164.8 1575.6,1187.7 1547.5,1187.7" fill="none" stroke="#872a00" stroke-width="3.2" stroke-linejoin="miter"/>
<polygon points="1592.5,1172.1 1606.5,1195 1578.5,1195" fill="none" stroke="#872a00" stroke-width="3.2" stroke-linejoin="miter"/>
<polygon points="1622.9,1182 1637,1204.9 1608.9,1204.9" fill="none" stroke="#872a00" stroke-width="3.2" stroke-linejoin="miter"/>
<polygon points="1653.4,1194.1 1667.5,1217 1639.4,1217" fill="none" stroke="#872a00" stroke-width="3.2" stroke-linejoin="miter"/>
<polygon points="1683.8,1207.3 1697.8,1230.2 1669.8,1230.2" fill="none" stroke="#872a00" stroke-width="3.2" stroke-linejoin="miter"/>
<polygon points="1714.9,1221.4 1729,1244.3 1700.9,1244.3" fill="none" stroke="#872a00" stroke-width="3.2" stroke-linejoin="miter"/>
<polygon points="1745.8,1237.5 1759.8,1260.4 1731.8,1260.4" fill="none" stroke="#872a00" stroke-width="3.2" stroke-linejoin="miter"/>
<polygon points="1776.7,1253.7 1790.8,1276.6 1762.7,1276.6" fill="none" stroke="#872a00" stroke-width="3.2" stroke-linejoin="miter"/>
<polygon points="1807.4,1271.6 1821.5,1294.5 1793.4,1294.5" fill="none" stroke="#872a00" stroke-width="3.2" stroke-linejoin="miter"/>
<polygon points="1838,1289.1 1852,1312 1824,1312" fill="none" stroke="#872a00" stroke-width="3.2" stroke-linejoin="miter"/>
<polygon points="1869.3,1308.3 1883.3,1331.2 1855.2,1331.2" fill="none" stroke="#872a00" stroke-width="3.2" stroke-linejoin="miter"/>
<polygon points="1898.8,1327.2 1912.8,1350.1 1884.8,1350.1" fill="none" stroke="#872a00" stroke-width="3.2" stroke-linejoin="miter"/>
<polygon points="1930.1,1348 1944.1,1370.9 1916,1370.9" fill="none" stroke="#872a00" stroke-width="3.2" stroke-linejoin="miter"/>
<polygon points="1961.3,1369 1975.3,1391.9 1947.2,1391.9" fill="none" stroke="#872a00" stroke-width="3.2" stroke-linejoin="miter"/>
<polygon points="1991.9,1390.1 2006,1413 1977.9,1413" fill="none" stroke="#872a00" stroke-width="3.2" stroke-linejoin="miter"/>
<polygon points="2022.8,1412.8 2036.8,1435.7 2008.8,1435.7" fill="none" stroke="#872a00" stroke-width="3.2" stroke-linejoin="miter"/>
<polygon points="2053.4,1434.3 2067.5,1457.2 2039.4,1457.2" fill="none" stroke="#872a00" stroke-width="3.2" stroke-linejoin="miter"/>
<polygon points="2083.8,1457.1 2097.9,1480 2069.8,1480" fill="none" stroke="#872a00" stroke-width="3.2" stroke-linejoin="miter"/>
<polygon points="2114.3,1480.2 2128.4,1503.1 2100.2,1503.1" fill="none" stroke="#872a00" stroke-width="3.2" stroke-linejoin="miter"/>
</g>
<rect x="1377" y="876.4" width="755.5" height="585.6" fill="none" stroke="#000" stroke-width="2"/>
<rect x="1413.4" y="1025.2" width="282.2" height="107" fill="#fff" stroke="#000" stroke-width="1.8"/>
<polygon points="1463.5,1034.5 1479.8,1050.8 1463.5,1067.1 1447.2,1050.8" fill="none" stroke="#0000ff" stroke-width="2.8"/>
<polygon points="1463.5,1083 1478,1107.1 1449,1107.1" fill="none" stroke="#872a00" stroke-width="3.2"/>
<text transform="translate(1508.5 1065.3) scale(1.0 1.0)" font-family="'Liberation Sans', Arial, sans-serif" font-size="39">12CB</text>
<text transform="translate(1508.5 1111.4) scale(1.0 1.0)" font-family="'Liberation Sans', Arial, sans-serif" font-size="39" letter-spacing="0.8">12CB+C<tspan font-size="26.5" dy="10" dx="0.5">60</tspan></text>
<text transform="translate(1892.6 952.4) scale(1.0 1.0)" font-family="'Liberation Sans', Arial, sans-serif" font-size="50.4" letter-spacing="0.78">Isotropic</text>
<text transform="translate(1251.3 1377.1) rotate(-90)" font-family="'Liberation Sans', Arial, sans-serif" font-size="49.7">dielectric constant</text>
<text transform="translate(1251.2 966.5) rotate(-90)" font-family="'Noto Serif CJK SC', 'Liberation Serif', serif" font-size="64" font-style="italic">&#949;</text>
<rect x="2008" y="1468" width="132" height="60" fill="#fff"/>
<text transform="translate(2014 1511.7) scale(0.857 1.02)" font-family="'Liberation Sans', Arial, sans-serif" font-size="50" font-style="italic">T</text>
<text transform="translate(2070.8 1511.7) scale(1.0 1.0)" font-family="'Liberation Sans', Arial, sans-serif" font-size="50" letter-spacing="2">(K)</text>
</g>
<rect x="341.5" y="105" width="664.5" height="198" fill="none" stroke="#000" stroke-width="1.9"/>
<text transform="translate(350.4 178.5) scale(1.0 1.035)" font-family="'Liberation Sans', Arial, sans-serif" font-size="70.5" fill="#0000ff">12CB</text>
<text transform="translate(350.4 264.7) scale(1.0 1.035)" font-family="'Liberation Sans', Arial, sans-serif" font-size="70.5" fill="#00ad00">12CB+C<tspan font-size="47" dy="17.6">60</tspan></text>
<circle cx="762.7" cy="154" r="22.1" fill="#fff" stroke="#0000ff" stroke-width="4.4"/>
<circle cx="941.4" cy="157.1" r="22" fill="#fff" stroke="#0000ff" stroke-width="4.4"/>
<path d="M919.4 158.3A22 22 0 1 1 963.4 158.3Z" fill="#0000ff"/>
<path d="M733.5 256.1L761.5 207.7L789.5 256.1" fill="none" stroke="#33b833" stroke-width="1.8" stroke-dasharray="2 4" opacity="0.6"/>
<line x1="733.5" y1="256.1" x2="789.5" y2="256.1" stroke="#33b833" stroke-width="1.6" stroke-dasharray="3 1.5" opacity="0.55"/>
<polygon points="940.3,224.2 965.5,267.9 915.1,267.9" fill="#fff" stroke="#00ad00" stroke-width="3.9" stroke-linejoin="miter" stroke-dasharray="7.5 1.1"/>
<polygon points="940.3,224.2 957.1,253.3 923.5,253.3" fill="#00ad00"/>
<line x1="933.8" y1="232.3" x2="933.8" y2="252.3" stroke="#fff" stroke-width="0.9" opacity="0.75"/>
<line x1="941.8" y1="232.3" x2="941.8" y2="252.3" stroke="#fff" stroke-width="0.9" opacity="0.75"/>
<line x1="926.3" y1="244.3" x2="954.3" y2="244.3" stroke="#fff" stroke-width="0.9" opacity="0.75"/>
<text transform="translate(1708.4 179.4) scale(1.0 1.0)" font-family="'Liberation Sans', Arial, sans-serif" font-size="84.6">Isotropic</text>
<text transform="translate(736.9 658) scale(1.0 1.025)" font-family="'Liberation Sans', Arial, sans-serif" font-size="85">SmA</text>
<text transform="translate(454.2 903.5) rotate(-90)" font-family="'Liberation Sans', Arial, sans-serif" font-size="83.8">Solid</text>
<text transform="translate(108 1219.5) rotate(-90)" font-family="'Liberation Sans', Arial, sans-serif" font-size="77.5">dielectric constant</text>
<text transform="translate(108 556.5) rotate(-90)" font-family="'Liberation Sans', Arial, sans-serif" font-size="78" fill="#0000ff">(</text>
<text transform="translate(108 531.8) rotate(-90)" font-family="'Noto Serif CJK SC', 'Liberation Serif', serif" font-size="95" font-style="italic">&#949;</text>
<text transform="translate(108 463) rotate(-90)" font-family="'Liberation Sans', Arial, sans-serif" font-size="78" fill="#0000ff">)</text>
<text transform="translate(1133.5 1792.8) scale(1.0 1.06)" font-family="'Liberation Sans', Arial, sans-serif" font-size="84" font-style="italic">T</text>
<text transform="translate(1205 1792.8) scale(1.0 1.0)" font-family="'Liberation Sans', Arial, sans-serif" font-size="84" letter-spacing="1.4">(K)</text>
<text transform="translate(2357.6 987.6) rotate(-90)" font-family="'Noto Serif CJK SC', 'Liberation Serif', serif" font-size="95" font-style="italic">&#949;</text>
<text transform="translate(2329.5 938.8) rotate(-90)" font-family="'Liberation Sans', Arial, sans-serif" font-size="71">&quot;</text>
<text transform="translate(2379.2 942) rotate(-90)" font-family="'Liberation Sans', Arial, sans-serif" font-size="57.5" font-style="italic">peak</text>
</svg>
</body></html>
